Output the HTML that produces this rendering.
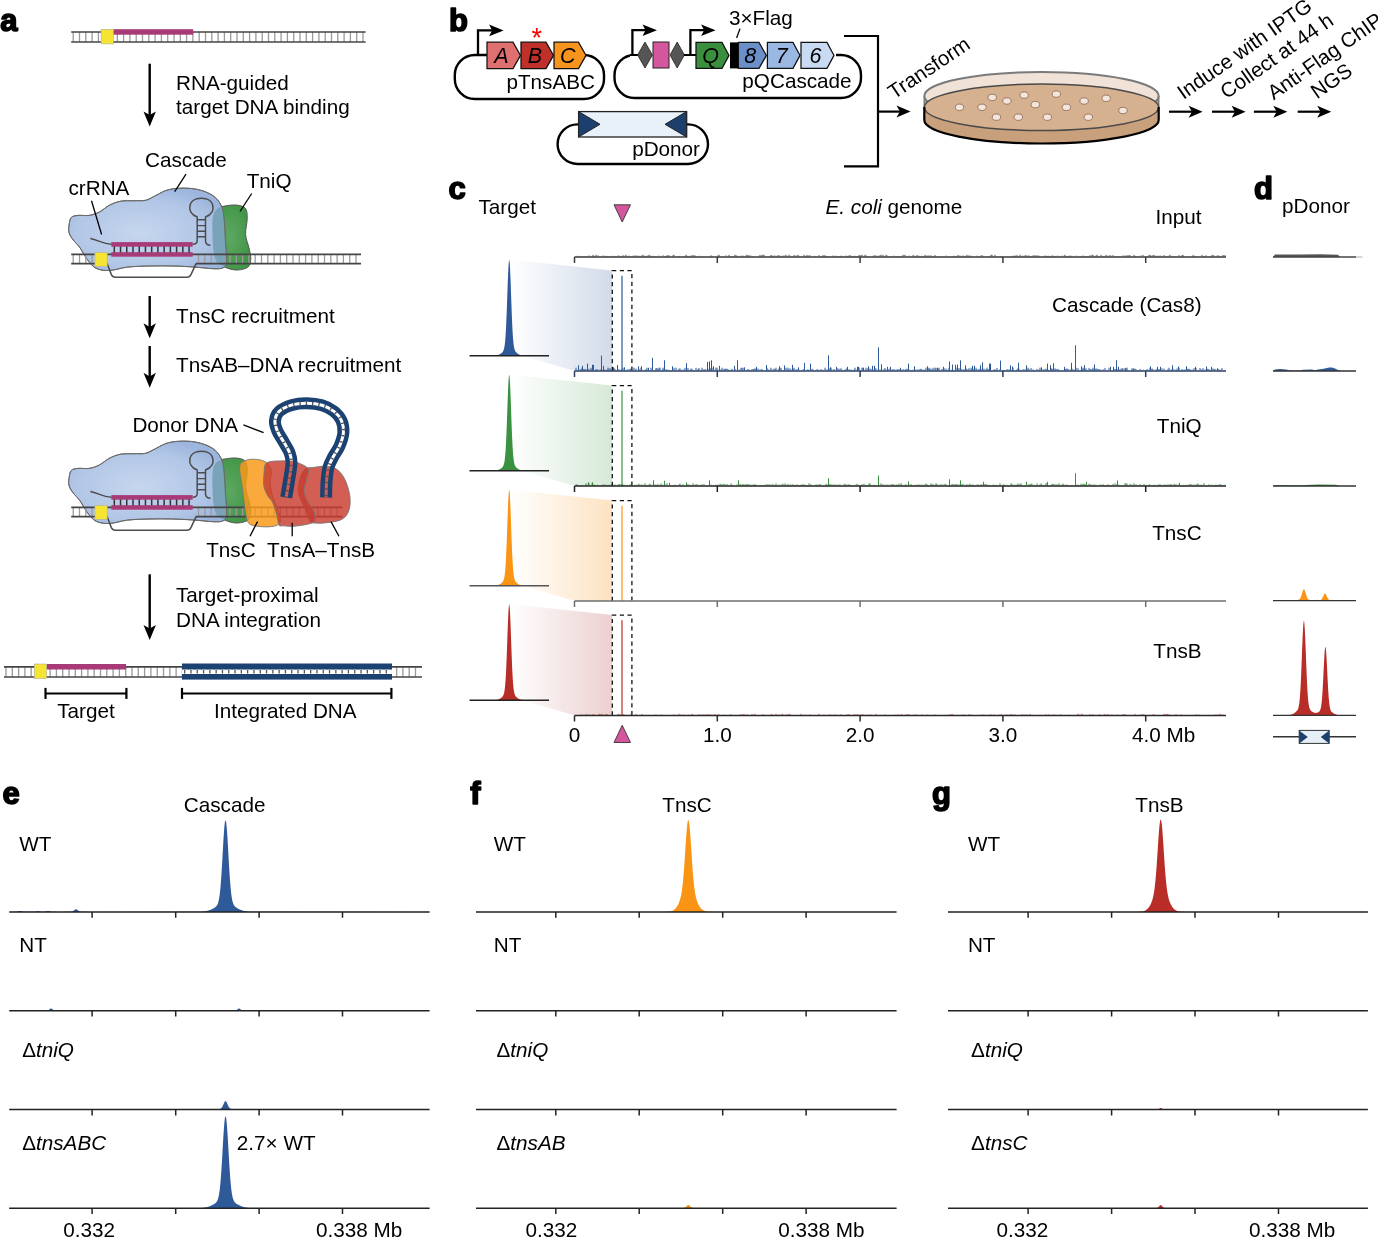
<!DOCTYPE html>
<html><head><meta charset="utf-8"><style>
html,body{margin:0;padding:0;background:#fff;}
svg{display:block;font-family:"Liberation Sans", sans-serif;will-change:transform;}
</style></head><body>
<svg width="1378" height="1237" viewBox="0 0 1378 1237">
<defs><radialGradient id="cg" cx="0.45" cy="0.55" r="0.6">
<stop offset="0" stop-color="#c6d6ee"/><stop offset="0.7" stop-color="#b1c6e6"/><stop offset="1" stop-color="#9cb5de"/></radialGradient><radialGradient id="gg" cx="0.45" cy="0.5" r="0.6">
<stop offset="0" stop-color="#5ea862"/><stop offset="1" stop-color="#3f9445"/></radialGradient><clipPath id="cc1"><path d="M69.00,225.50 C69.37,223.07 69.70,219.28 71.20,217.60 C72.70,215.92 75.00,215.77 78.00,215.40 C81.00,215.03 85.63,215.97 89.20,215.40 C92.77,214.83 96.02,213.70 99.40,212.00 C102.78,210.30 105.95,207.00 109.50,205.20 C113.05,203.40 116.58,201.95 120.70,201.20 C124.82,200.45 130.07,200.85 134.20,200.70 C138.33,200.55 142.12,201.05 145.50,200.30 C148.88,199.55 151.13,197.82 154.50,196.20 C157.87,194.58 161.95,191.90 165.70,190.60 C169.45,189.30 172.87,188.77 177.00,188.40 C181.13,188.03 186.00,187.92 190.50,188.40 C195.00,188.88 199.88,189.80 204.00,191.30 C208.12,192.80 212.20,194.70 215.20,197.40 C218.20,200.10 220.50,203.57 222.00,207.50 C223.50,211.43 223.63,215.38 224.20,221.00 C224.77,226.62 225.02,234.45 225.40,241.20 C225.78,247.95 226.88,257.07 226.50,261.50 C226.12,265.93 225.35,266.60 223.10,267.80 C220.85,269.00 217.68,268.82 213.00,268.70 C208.32,268.58 201.75,267.55 195.00,267.10 C188.25,266.65 180.00,266.18 172.50,266.00 C165.00,265.82 157.50,265.82 150.00,266.00 C142.50,266.18 134.25,266.35 127.50,267.10 C120.75,267.85 114.75,270.32 109.50,270.50 C104.25,270.68 99.75,270.08 96.00,268.20 C92.25,266.32 89.63,262.57 87.00,259.20 C84.37,255.83 82.63,251.37 80.20,248.00 C77.77,244.63 74.27,241.63 72.40,239.00 C70.53,236.37 69.57,234.45 69.00,232.20 C68.43,229.95 68.63,227.93 69.00,225.50 Z"/></clipPath><clipPath id="cc2"><path d="M69.00,478.50 C69.37,476.07 69.70,472.28 71.20,470.60 C72.70,468.92 75.00,468.77 78.00,468.40 C81.00,468.03 85.63,468.97 89.20,468.40 C92.77,467.83 96.02,466.70 99.40,465.00 C102.78,463.30 105.95,460.00 109.50,458.20 C113.05,456.40 116.58,454.95 120.70,454.20 C124.82,453.45 130.07,453.85 134.20,453.70 C138.33,453.55 142.12,454.05 145.50,453.30 C148.88,452.55 151.13,450.82 154.50,449.20 C157.87,447.58 161.95,444.90 165.70,443.60 C169.45,442.30 172.87,441.77 177.00,441.40 C181.13,441.03 186.00,440.92 190.50,441.40 C195.00,441.88 199.88,442.80 204.00,444.30 C208.12,445.80 212.20,447.70 215.20,450.40 C218.20,453.10 220.50,456.57 222.00,460.50 C223.50,464.43 223.63,468.38 224.20,474.00 C224.77,479.62 225.02,487.45 225.40,494.20 C225.78,500.95 226.88,510.07 226.50,514.50 C226.12,518.93 225.35,519.60 223.10,520.80 C220.85,522.00 217.68,521.82 213.00,521.70 C208.32,521.58 201.75,520.55 195.00,520.10 C188.25,519.65 180.00,519.18 172.50,519.00 C165.00,518.82 157.50,518.82 150.00,519.00 C142.50,519.18 134.25,519.35 127.50,520.10 C120.75,520.85 114.75,523.32 109.50,523.50 C104.25,523.68 99.75,523.08 96.00,521.20 C92.25,519.32 89.63,515.57 87.00,512.20 C84.37,508.83 82.63,504.37 80.20,501.00 C77.77,497.63 74.27,494.63 72.40,492.00 C70.53,489.37 69.57,487.45 69.00,485.20 C68.43,482.95 68.63,480.93 69.00,478.50 Z"/></clipPath><mask id="lm" maskUnits="userSpaceOnUse" x="0" y="0" width="1378" height="1237"><rect x="0" y="0" width="1378" height="1237" fill="#fff"/><path d="M286.20,497.50 C286.73,494.32 288.52,484.23 289.40,478.40 C290.28,472.57 291.48,466.82 291.50,462.50 C291.52,458.18 290.78,455.90 289.50,452.50 C288.22,449.10 285.83,445.70 283.80,442.10 C281.77,438.50 278.77,434.47 277.30,430.90 C275.83,427.33 274.68,423.95 275.00,420.70 C275.32,417.45 276.33,414.03 279.20,411.40 C282.07,408.77 287.55,406.25 292.20,404.90 C296.85,403.55 302.13,403.23 307.10,403.30 C312.07,403.37 317.52,403.95 322.00,405.30 C326.48,406.65 330.75,408.83 334.00,411.40 C337.25,413.97 339.93,417.13 341.50,420.70 C343.07,424.27 343.72,428.62 343.40,432.80 C343.08,436.98 341.32,441.77 339.60,445.80 C337.88,449.83 334.95,453.43 333.10,457.00 C331.25,460.57 329.58,463.18 328.50,467.20 C327.42,471.22 327.00,476.05 326.60,481.10 C326.20,486.15 326.18,494.77 326.10,497.50" fill="none" stroke="#000" stroke-width="3"/></mask><linearGradient id="gb0" gradientUnits="userSpaceOnUse" x1="510" y1="0" x2="612" y2="0"><stop offset="0" stop-color="#d2dbea" stop-opacity="0"/><stop offset="1" stop-color="#d2dbea" stop-opacity="1"/></linearGradient><linearGradient id="gb1" gradientUnits="userSpaceOnUse" x1="510" y1="0" x2="612" y2="0"><stop offset="0" stop-color="#d6e9d8" stop-opacity="0"/><stop offset="1" stop-color="#d6e9d8" stop-opacity="1"/></linearGradient><linearGradient id="gb2" gradientUnits="userSpaceOnUse" x1="510" y1="0" x2="612" y2="0"><stop offset="0" stop-color="#fde2c2" stop-opacity="0"/><stop offset="1" stop-color="#fde2c2" stop-opacity="1"/></linearGradient><linearGradient id="gb3" gradientUnits="userSpaceOnUse" x1="510" y1="0" x2="612" y2="0"><stop offset="0" stop-color="#ecd0d0" stop-opacity="0"/><stop offset="1" stop-color="#ecd0d0" stop-opacity="1"/></linearGradient></defs>
<rect width="1378" height="1237" fill="#fff"/>
<text x="0.2" y="31.2" font-size="31" font-weight="bold" fill="#000" stroke="#000" stroke-width="1.6" stroke-linejoin="round">a</text>
<path d="M73.20,32.00V42.00M79.50,32.00V42.00M85.80,32.00V42.00M92.10,32.00V42.00M98.40,32.00V42.00M104.70,32.00V42.00M111.00,32.00V42.00M117.30,32.00V42.00M123.60,32.00V42.00M129.90,32.00V42.00M136.20,32.00V42.00M142.50,32.00V42.00M148.80,32.00V42.00M155.10,32.00V42.00M161.40,32.00V42.00M167.70,32.00V42.00M174.00,32.00V42.00M180.30,32.00V42.00M186.60,32.00V42.00M192.90,32.00V42.00M199.20,32.00V42.00M205.50,32.00V42.00M211.80,32.00V42.00M218.10,32.00V42.00M224.40,32.00V42.00M230.70,32.00V42.00M237.00,32.00V42.00M243.30,32.00V42.00M249.60,32.00V42.00M255.90,32.00V42.00M262.20,32.00V42.00M268.50,32.00V42.00M274.80,32.00V42.00M281.10,32.00V42.00M287.40,32.00V42.00M293.70,32.00V42.00M300.00,32.00V42.00M306.30,32.00V42.00M312.60,32.00V42.00M318.90,32.00V42.00M325.20,32.00V42.00M331.50,32.00V42.00M337.80,32.00V42.00M344.10,32.00V42.00M350.40,32.00V42.00M356.70,32.00V42.00M363.00,32.00V42.00" stroke="#9a9a9a" stroke-width="1.3" fill="none"/>
<line x1="71.20" y1="32.00" x2="365.60" y2="32.00" stroke="#444" stroke-width="1.7" />
<line x1="71.20" y1="42.00" x2="365.60" y2="42.00" stroke="#444" stroke-width="1.7" />
<rect x="113.3" y="29.2" width="79.8" height="5.5" fill="#a83a78"/>
<rect x="101.1" y="29.3" width="12.2" height="14.6" fill="#f5e532" stroke="#b0b0a0" stroke-width="0.6"/>
<line x1="149.70" y1="63.70" x2="149.70" y2="116.60" stroke="#000" stroke-width="2.4" />
<path d="M143.50,111.50 L149.70,126.50 L155.90,111.50 L149.70,115.10 Z" fill="#000"/>
<text x="176.0" y="89.5" font-size="20.7" text-anchor="start" fill="#000" >RNA-guided</text>
<text x="176.0" y="114.0" font-size="20.7" text-anchor="start" fill="#000" >target DNA binding</text>
<line x1="149.70" y1="296.00" x2="149.70" y2="328.40" stroke="#000" stroke-width="2.4" />
<path d="M143.50,323.30 L149.70,338.30 L155.90,323.30 L149.70,326.90 Z" fill="#000"/>
<text x="176.0" y="323.0" font-size="20.7" text-anchor="start" fill="#000" >TnsC recruitment</text>
<line x1="149.70" y1="346.00" x2="149.70" y2="377.90" stroke="#000" stroke-width="2.4" />
<path d="M143.50,372.80 L149.70,387.80 L155.90,372.80 L149.70,376.40 Z" fill="#000"/>
<text x="176.0" y="372.0" font-size="20.7" text-anchor="start" fill="#000" >TnsAB–DNA recruitment</text>
<line x1="149.70" y1="574.30" x2="149.70" y2="630.10" stroke="#000" stroke-width="2.4" />
<path d="M143.50,625.00 L149.70,640.00 L155.90,625.00 L149.70,628.60 Z" fill="#000"/>
<text x="176.0" y="601.5" font-size="20.7" text-anchor="start" fill="#000" >Target-proximal</text>
<text x="176.0" y="627.0" font-size="20.7" text-anchor="start" fill="#000" >DNA integration</text>
<path d="M217.50,208.60 C219.75,206.80 223.13,206.27 226.50,205.70 C229.87,205.13 234.52,204.72 237.70,205.20 C240.88,205.68 244.02,206.35 245.60,208.60 C247.18,210.85 247.20,214.38 247.20,218.70 C247.20,223.02 245.30,229.62 245.60,234.50 C245.90,239.38 248.13,243.88 249.00,248.00 C249.87,252.12 250.98,256.02 250.80,259.20 C250.62,262.38 250.08,265.30 247.90,267.10 C245.72,268.90 241.08,269.82 237.70,270.00 C234.32,270.18 230.78,269.32 227.60,268.20 C224.42,267.08 220.85,265.55 218.60,263.30 C216.35,261.05 215.12,259.50 214.10,254.70 C213.08,249.90 212.68,240.87 212.50,234.50 C212.32,228.13 212.17,220.82 213.00,216.50 C213.83,212.18 215.25,210.40 217.50,208.60 Z" fill="url(#gg)" stroke="#555" stroke-width="1"/>
<path d="M69.00,225.50 C69.37,223.07 69.70,219.28 71.20,217.60 C72.70,215.92 75.00,215.77 78.00,215.40 C81.00,215.03 85.63,215.97 89.20,215.40 C92.77,214.83 96.02,213.70 99.40,212.00 C102.78,210.30 105.95,207.00 109.50,205.20 C113.05,203.40 116.58,201.95 120.70,201.20 C124.82,200.45 130.07,200.85 134.20,200.70 C138.33,200.55 142.12,201.05 145.50,200.30 C148.88,199.55 151.13,197.82 154.50,196.20 C157.87,194.58 161.95,191.90 165.70,190.60 C169.45,189.30 172.87,188.77 177.00,188.40 C181.13,188.03 186.00,187.92 190.50,188.40 C195.00,188.88 199.88,189.80 204.00,191.30 C208.12,192.80 212.20,194.70 215.20,197.40 C218.20,200.10 220.50,203.57 222.00,207.50 C223.50,211.43 223.63,215.38 224.20,221.00 C224.77,226.62 225.02,234.45 225.40,241.20 C225.78,247.95 226.88,257.07 226.50,261.50 C226.12,265.93 225.35,266.60 223.10,267.80 C220.85,269.00 217.68,268.82 213.00,268.70 C208.32,268.58 201.75,267.55 195.00,267.10 C188.25,266.65 180.00,266.18 172.50,266.00 C165.00,265.82 157.50,265.82 150.00,266.00 C142.50,266.18 134.25,266.35 127.50,267.10 C120.75,267.85 114.75,270.32 109.50,270.50 C104.25,270.68 99.75,270.08 96.00,268.20 C92.25,266.32 89.63,262.57 87.00,259.20 C84.37,255.83 82.63,251.37 80.20,248.00 C77.77,244.63 74.27,241.63 72.40,239.00 C70.53,236.37 69.57,234.45 69.00,232.20 C68.43,229.95 68.63,227.93 69.00,225.50 Z" fill="url(#cg)" stroke="#6a6a6a" stroke-width="1"/>
<path d="M217.50,208.60 C219.75,206.80 223.13,206.27 226.50,205.70 C229.87,205.13 234.52,204.72 237.70,205.20 C240.88,205.68 244.02,206.35 245.60,208.60 C247.18,210.85 247.20,214.38 247.20,218.70 C247.20,223.02 245.30,229.62 245.60,234.50 C245.90,239.38 248.13,243.88 249.00,248.00 C249.87,252.12 250.98,256.02 250.80,259.20 C250.62,262.38 250.08,265.30 247.90,267.10 C245.72,268.90 241.08,269.82 237.70,270.00 C234.32,270.18 230.78,269.32 227.60,268.20 C224.42,267.08 220.85,265.55 218.60,263.30 C216.35,261.05 215.12,259.50 214.10,254.70 C213.08,249.90 212.68,240.87 212.50,234.50 C212.32,228.13 212.17,220.82 213.00,216.50 C213.83,212.18 215.25,210.40 217.50,208.60 Z" fill="#79a3b9" clip-path="url(#cc1)"/>
<path d="M69.00,225.50 C69.37,223.07 69.70,219.28 71.20,217.60 C72.70,215.92 75.00,215.77 78.00,215.40 C81.00,215.03 85.63,215.97 89.20,215.40 C92.77,214.83 96.02,213.70 99.40,212.00 C102.78,210.30 105.95,207.00 109.50,205.20 C113.05,203.40 116.58,201.95 120.70,201.20 C124.82,200.45 130.07,200.85 134.20,200.70 C138.33,200.55 142.12,201.05 145.50,200.30 C148.88,199.55 151.13,197.82 154.50,196.20 C157.87,194.58 161.95,191.90 165.70,190.60 C169.45,189.30 172.87,188.77 177.00,188.40 C181.13,188.03 186.00,187.92 190.50,188.40 C195.00,188.88 199.88,189.80 204.00,191.30 C208.12,192.80 212.20,194.70 215.20,197.40 C218.20,200.10 220.50,203.57 222.00,207.50 C223.50,211.43 223.63,215.38 224.20,221.00 C224.77,226.62 225.02,234.45 225.40,241.20 C225.78,247.95 226.88,257.07 226.50,261.50 C226.12,265.93 225.35,266.60 223.10,267.80 C220.85,269.00 217.68,268.82 213.00,268.70 C208.32,268.58 201.75,267.55 195.00,267.10 C188.25,266.65 180.00,266.18 172.50,266.00 C165.00,265.82 157.50,265.82 150.00,266.00 C142.50,266.18 134.25,266.35 127.50,267.10 C120.75,267.85 114.75,270.32 109.50,270.50 C104.25,270.68 99.75,270.08 96.00,268.20 C92.25,266.32 89.63,262.57 87.00,259.20 C84.37,255.83 82.63,251.37 80.20,248.00 C77.77,244.63 74.27,241.63 72.40,239.00 C70.53,236.37 69.57,234.45 69.00,232.20 C68.43,229.95 68.63,227.93 69.00,225.50 Z" fill="none" stroke="#6a6a6a" stroke-width="1"/>
<path d="M73.20,254.30V263.70M79.50,254.30V263.70M85.80,254.30V263.70M92.10,254.30V263.70M198.50,254.30V263.70M204.80,254.30V263.70M211.10,254.30V263.70M217.40,254.30V263.70M223.70,254.30V263.70M230.00,254.30V263.70M236.30,254.30V263.70M242.60,254.30V263.70M248.90,254.30V263.70M255.20,254.30V263.70M261.50,254.30V263.70M267.80,254.30V263.70M274.10,254.30V263.70M280.40,254.30V263.70M286.70,254.30V263.70M293.00,254.30V263.70M299.30,254.30V263.70M305.60,254.30V263.70M311.90,254.30V263.70M318.20,254.30V263.70M324.50,254.30V263.70M330.80,254.30V263.70M337.10,254.30V263.70M343.40,254.30V263.70M349.70,254.30V263.70M356.00,254.30V263.70" stroke="#9c9c9c" stroke-width="1.3" fill="none"/>
<line x1="71.20" y1="254.30" x2="112.00" y2="254.30" stroke="#444" stroke-width="1.7" />
<line x1="71.20" y1="263.70" x2="107.50" y2="263.70" stroke="#444" stroke-width="1.7" />
<line x1="192.00" y1="254.30" x2="361.00" y2="254.30" stroke="#444" stroke-width="1.7" />
<line x1="195.80" y1="263.70" x2="361.00" y2="263.70" stroke="#444" stroke-width="1.7" />
<path d="M107.2,263.7 L111.3,274.5 Q112.5,277.2 115.5,277.2 L187,277.2 Q189.8,277.2 191,274.5 L196.1,263.7" fill="none" stroke="#4d4d4d" stroke-width="1.6"/>
<path d="M114.30,246.00V253.00M120.53,246.00V253.00M126.76,246.00V253.00M132.99,246.00V253.00M139.22,246.00V253.00M145.45,246.00V253.00M151.68,246.00V253.00M157.91,246.00V253.00M164.14,246.00V253.00M170.37,246.00V253.00M176.60,246.00V253.00M182.83,246.00V253.00M189.06,246.00V253.00" stroke="#333" stroke-width="1.5"/>
<rect x="111.3" y="242.1" width="81.4" height="4.6" fill="#a83a78"/>
<rect x="111.3" y="252.2" width="81.4" height="4.5" fill="#a83a78"/>
<path d="M90.4,238.5 C98,240 103,244 111.3,244.2" fill="none" stroke="#4d4d4d" stroke-width="1.4"/>
<path d="M192.7,244.2 C195.5,244.2 197.2,243 197.2,240.5 L197.2,217 C190.5,214.5 189.6,209.5 189.8,207.5 C190,201 195.5,198.3 201.4,198.3 C207.3,198.3 212.8,201 213,207.5 C213.2,209.5 212.3,214.5 205.5,217 L205.5,240.5 C205.5,243.6 207.5,245.2 210.5,245.3" fill="none" stroke="#4d4d4d" stroke-width="1.5"/>
<path d="M197.2,219.8H205.5M197.2,225.6H205.5M197.2,231.3H205.5M197.2,236.8H205.5" stroke="#4d4d4d" stroke-width="1.4"/>
<rect x="94.9" y="252.5" width="12.3" height="13.9" fill="#f5e532" stroke="#b0b0a0" stroke-width="0.6"/>
<line x1="91.50" y1="200.70" x2="101.60" y2="234.50" stroke="#000" stroke-width="1.3" />
<line x1="186.00" y1="174.20" x2="174.70" y2="191.70" stroke="#000" stroke-width="1.3" />
<line x1="251.70" y1="193.50" x2="240.00" y2="211.50" stroke="#000" stroke-width="1.3" />
<text x="68.5" y="194.7" font-size="20.7" text-anchor="start" fill="#000" >crRNA</text>
<text x="145.0" y="167.0" font-size="20.7" text-anchor="start" fill="#000" >Cascade</text>
<text x="246.7" y="188.0" font-size="20.7" text-anchor="start" fill="#000" >TniQ</text>
<path d="M217.50,461.60 C219.75,459.80 223.13,459.27 226.50,458.70 C229.87,458.13 234.52,457.72 237.70,458.20 C240.88,458.68 244.02,459.35 245.60,461.60 C247.18,463.85 247.20,467.38 247.20,471.70 C247.20,476.02 245.30,482.62 245.60,487.50 C245.90,492.38 248.13,496.88 249.00,501.00 C249.87,505.12 250.98,509.02 250.80,512.20 C250.62,515.38 250.08,518.30 247.90,520.10 C245.72,521.90 241.08,522.82 237.70,523.00 C234.32,523.18 230.78,522.32 227.60,521.20 C224.42,520.08 220.85,518.55 218.60,516.30 C216.35,514.05 215.12,512.50 214.10,507.70 C213.08,502.90 212.68,493.87 212.50,487.50 C212.32,481.13 212.17,473.82 213.00,469.50 C213.83,465.18 215.25,463.40 217.50,461.60 Z" fill="url(#gg)" stroke="#555" stroke-width="1"/>
<path d="M69.00,478.50 C69.37,476.07 69.70,472.28 71.20,470.60 C72.70,468.92 75.00,468.77 78.00,468.40 C81.00,468.03 85.63,468.97 89.20,468.40 C92.77,467.83 96.02,466.70 99.40,465.00 C102.78,463.30 105.95,460.00 109.50,458.20 C113.05,456.40 116.58,454.95 120.70,454.20 C124.82,453.45 130.07,453.85 134.20,453.70 C138.33,453.55 142.12,454.05 145.50,453.30 C148.88,452.55 151.13,450.82 154.50,449.20 C157.87,447.58 161.95,444.90 165.70,443.60 C169.45,442.30 172.87,441.77 177.00,441.40 C181.13,441.03 186.00,440.92 190.50,441.40 C195.00,441.88 199.88,442.80 204.00,444.30 C208.12,445.80 212.20,447.70 215.20,450.40 C218.20,453.10 220.50,456.57 222.00,460.50 C223.50,464.43 223.63,468.38 224.20,474.00 C224.77,479.62 225.02,487.45 225.40,494.20 C225.78,500.95 226.88,510.07 226.50,514.50 C226.12,518.93 225.35,519.60 223.10,520.80 C220.85,522.00 217.68,521.82 213.00,521.70 C208.32,521.58 201.75,520.55 195.00,520.10 C188.25,519.65 180.00,519.18 172.50,519.00 C165.00,518.82 157.50,518.82 150.00,519.00 C142.50,519.18 134.25,519.35 127.50,520.10 C120.75,520.85 114.75,523.32 109.50,523.50 C104.25,523.68 99.75,523.08 96.00,521.20 C92.25,519.32 89.63,515.57 87.00,512.20 C84.37,508.83 82.63,504.37 80.20,501.00 C77.77,497.63 74.27,494.63 72.40,492.00 C70.53,489.37 69.57,487.45 69.00,485.20 C68.43,482.95 68.63,480.93 69.00,478.50 Z" fill="url(#cg)" stroke="#6a6a6a" stroke-width="1"/>
<path d="M217.50,461.60 C219.75,459.80 223.13,459.27 226.50,458.70 C229.87,458.13 234.52,457.72 237.70,458.20 C240.88,458.68 244.02,459.35 245.60,461.60 C247.18,463.85 247.20,467.38 247.20,471.70 C247.20,476.02 245.30,482.62 245.60,487.50 C245.90,492.38 248.13,496.88 249.00,501.00 C249.87,505.12 250.98,509.02 250.80,512.20 C250.62,515.38 250.08,518.30 247.90,520.10 C245.72,521.90 241.08,522.82 237.70,523.00 C234.32,523.18 230.78,522.32 227.60,521.20 C224.42,520.08 220.85,518.55 218.60,516.30 C216.35,514.05 215.12,512.50 214.10,507.70 C213.08,502.90 212.68,493.87 212.50,487.50 C212.32,481.13 212.17,473.82 213.00,469.50 C213.83,465.18 215.25,463.40 217.50,461.60 Z" fill="#79a3b9" clip-path="url(#cc2)"/>
<path d="M69.00,478.50 C69.37,476.07 69.70,472.28 71.20,470.60 C72.70,468.92 75.00,468.77 78.00,468.40 C81.00,468.03 85.63,468.97 89.20,468.40 C92.77,467.83 96.02,466.70 99.40,465.00 C102.78,463.30 105.95,460.00 109.50,458.20 C113.05,456.40 116.58,454.95 120.70,454.20 C124.82,453.45 130.07,453.85 134.20,453.70 C138.33,453.55 142.12,454.05 145.50,453.30 C148.88,452.55 151.13,450.82 154.50,449.20 C157.87,447.58 161.95,444.90 165.70,443.60 C169.45,442.30 172.87,441.77 177.00,441.40 C181.13,441.03 186.00,440.92 190.50,441.40 C195.00,441.88 199.88,442.80 204.00,444.30 C208.12,445.80 212.20,447.70 215.20,450.40 C218.20,453.10 220.50,456.57 222.00,460.50 C223.50,464.43 223.63,468.38 224.20,474.00 C224.77,479.62 225.02,487.45 225.40,494.20 C225.78,500.95 226.88,510.07 226.50,514.50 C226.12,518.93 225.35,519.60 223.10,520.80 C220.85,522.00 217.68,521.82 213.00,521.70 C208.32,521.58 201.75,520.55 195.00,520.10 C188.25,519.65 180.00,519.18 172.50,519.00 C165.00,518.82 157.50,518.82 150.00,519.00 C142.50,519.18 134.25,519.35 127.50,520.10 C120.75,520.85 114.75,523.32 109.50,523.50 C104.25,523.68 99.75,523.08 96.00,521.20 C92.25,519.32 89.63,515.57 87.00,512.20 C84.37,508.83 82.63,504.37 80.20,501.00 C77.77,497.63 74.27,494.63 72.40,492.00 C70.53,489.37 69.57,487.45 69.00,485.20 C68.43,482.95 68.63,480.93 69.00,478.50 Z" fill="none" stroke="#6a6a6a" stroke-width="1"/>
<path d="M73.20,507.30V516.70M79.50,507.30V516.70M85.80,507.30V516.70M92.10,507.30V516.70M198.50,507.30V516.70M204.80,507.30V516.70M211.10,507.30V516.70M217.40,507.30V516.70M223.70,507.30V516.70M230.00,507.30V516.70M236.30,507.30V516.70M242.60,507.30V516.70M248.90,507.30V516.70M255.20,507.30V516.70M261.50,507.30V516.70M267.80,507.30V516.70M274.10,507.30V516.70M280.40,507.30V516.70M286.70,507.30V516.70M293.00,507.30V516.70M299.30,507.30V516.70M305.60,507.30V516.70M311.90,507.30V516.70M318.20,507.30V516.70M324.50,507.30V516.70M330.80,507.30V516.70M337.10,507.30V516.70" stroke="#9c9c9c" stroke-width="1.3" fill="none"/>
<line x1="71.20" y1="507.30" x2="112.00" y2="507.30" stroke="#444" stroke-width="1.7" />
<line x1="71.20" y1="516.70" x2="107.50" y2="516.70" stroke="#444" stroke-width="1.7" />
<line x1="192.00" y1="507.30" x2="342.30" y2="507.30" stroke="#444" stroke-width="1.7" />
<line x1="195.80" y1="516.70" x2="342.30" y2="516.70" stroke="#444" stroke-width="1.7" />
<path d="M107.2,516.7 L111.3,527.5 Q112.5,530.2 115.5,530.2 L187,530.2 Q189.8,530.2 191,527.5 L196.1,516.7" fill="none" stroke="#4d4d4d" stroke-width="1.6"/>
<path d="M114.30,499.00V506.00M120.53,499.00V506.00M126.76,499.00V506.00M132.99,499.00V506.00M139.22,499.00V506.00M145.45,499.00V506.00M151.68,499.00V506.00M157.91,499.00V506.00M164.14,499.00V506.00M170.37,499.00V506.00M176.60,499.00V506.00M182.83,499.00V506.00M189.06,499.00V506.00" stroke="#333" stroke-width="1.5"/>
<rect x="111.3" y="495.1" width="81.4" height="4.6" fill="#a83a78"/>
<rect x="111.3" y="505.2" width="81.4" height="4.5" fill="#a83a78"/>
<path d="M90.4,491.5 C98,493 103,497 111.3,497.2" fill="none" stroke="#4d4d4d" stroke-width="1.4"/>
<path d="M192.7,497.2 C195.5,497.2 197.2,496 197.2,493.5 L197.2,470 C190.5,467.5 189.6,462.5 189.8,460.5 C190,454 195.5,451.3 201.4,451.3 C207.3,451.3 212.8,454 213,460.5 C213.2,462.5 212.3,467.5 205.5,470 L205.5,493.5 C205.5,496.6 207.5,498.2 210.5,498.3" fill="none" stroke="#4d4d4d" stroke-width="1.5"/>
<path d="M197.2,472.8H205.5M197.2,478.6H205.5M197.2,484.3H205.5M197.2,489.8H205.5" stroke="#4d4d4d" stroke-width="1.4"/>
<rect x="94.9" y="505.5" width="12.3" height="13.9" fill="#f5e532" stroke="#b0b0a0" stroke-width="0.6"/>
<path d="M239.60,468.50 C239.70,465.87 239.65,464.03 241.50,462.50 C243.35,460.97 247.35,459.67 250.70,459.30 C254.05,458.93 258.70,459.48 261.60,460.30 C264.50,461.12 266.47,462.28 268.10,464.20 C269.73,466.12 271.03,468.72 271.40,471.80 C271.77,474.88 270.12,478.72 270.30,482.70 C270.48,486.68 271.42,491.72 272.50,495.70 C273.58,499.68 275.53,502.97 276.80,506.60 C278.07,510.23 279.73,514.60 280.10,517.50 C280.47,520.40 280.63,522.47 279.00,524.00 C277.37,525.53 273.93,526.33 270.30,526.70 C266.67,527.07 260.83,526.83 257.20,526.20 C253.57,525.57 250.48,525.43 248.50,522.90 C246.52,520.37 246.20,515.90 245.30,511.00 C244.40,506.10 243.83,498.95 243.10,493.50 C242.37,488.05 241.48,482.47 240.90,478.30 C240.32,474.13 239.50,471.13 239.60,468.50 Z" fill="#f99a18" fill-opacity="0.84" stroke="#777" stroke-width="0.9"/>
<path d="M305.00,469.00 C307.35,466.90 310.52,467.85 313.80,467.40 C317.08,466.95 321.07,466.12 324.70,466.30 C328.33,466.48 332.33,466.50 335.60,468.50 C338.87,470.50 341.93,473.77 344.30,478.30 C346.67,482.83 349.07,490.25 349.80,495.70 C350.53,501.15 350.15,507.00 348.70,511.00 C347.25,515.00 345.10,517.72 341.10,519.70 C337.10,521.68 329.25,522.37 324.70,522.90 C320.15,523.43 316.33,523.25 313.80,522.90 C311.27,522.55 310.77,522.78 309.50,520.80 C308.23,518.82 308.02,515.55 306.20,511.00 C304.38,506.45 299.68,498.67 298.60,493.50 C297.52,488.33 298.63,484.08 299.70,480.00 C300.77,475.92 302.65,471.10 305.00,469.00 Z" fill="#c83a2e" fill-opacity="0.82" stroke="#777" stroke-width="0.9"/>
<path d="M265.40,464.20 C266.57,462.12 268.40,462.05 271.00,461.50 C273.60,460.95 277.50,460.95 281.00,460.90 C284.50,460.85 288.50,460.60 292.00,461.20 C295.50,461.80 299.27,463.10 302.00,464.50 C304.73,465.90 307.65,467.02 308.40,469.60 C309.15,472.18 307.23,476.37 306.50,480.00 C305.77,483.63 303.75,487.73 304.00,491.40 C304.25,495.07 306.37,498.73 308.00,502.00 C309.63,505.27 312.65,507.87 313.80,511.00 C314.95,514.13 315.80,518.63 314.90,520.80 C314.00,522.97 311.83,523.10 308.40,524.00 C304.97,524.90 298.53,525.90 294.30,526.20 C290.07,526.50 285.55,525.98 283.00,525.80 C280.45,525.62 280.03,526.85 279.00,525.10 C277.97,523.35 277.88,519.12 276.80,515.30 C275.72,511.48 274.03,505.47 272.50,502.20 C270.97,498.93 269.05,498.42 267.60,495.70 C266.15,492.98 264.40,489.52 263.80,485.90 C263.20,482.28 263.73,477.62 264.00,474.00 C264.27,470.38 264.23,466.28 265.40,464.20 Z" fill="#c83a2e" fill-opacity="0.82" stroke="#777" stroke-width="0.9"/>
<path d="M286.20,497.50 C286.73,494.32 288.52,484.23 289.40,478.40 C290.28,472.57 291.48,466.82 291.50,462.50 C291.52,458.18 290.78,455.90 289.50,452.50 C288.22,449.10 285.83,445.70 283.80,442.10 C281.77,438.50 278.77,434.47 277.30,430.90 C275.83,427.33 274.68,423.95 275.00,420.70 C275.32,417.45 276.33,414.03 279.20,411.40 C282.07,408.77 287.55,406.25 292.20,404.90 C296.85,403.55 302.13,403.23 307.10,403.30 C312.07,403.37 317.52,403.95 322.00,405.30 C326.48,406.65 330.75,408.83 334.00,411.40 C337.25,413.97 339.93,417.13 341.50,420.70 C343.07,424.27 343.72,428.62 343.40,432.80 C343.08,436.98 341.32,441.77 339.60,445.80 C337.88,449.83 334.95,453.43 333.10,457.00 C331.25,460.57 329.58,463.18 328.50,467.20 C327.42,471.22 327.00,476.05 326.60,481.10 C326.20,486.15 326.18,494.77 326.10,497.50" fill="none" stroke="#1c4272" stroke-width="12" mask="url(#lm)"/>
<path d="M286.20,497.50 C286.73,494.32 288.52,484.23 289.40,478.40 C290.28,472.57 291.48,466.82 291.50,462.50 C291.52,458.18 290.78,455.90 289.50,452.50 C288.22,449.10 285.83,445.70 283.80,442.10 C281.77,438.50 278.77,434.47 277.30,430.90 C275.83,427.33 274.68,423.95 275.00,420.70 C275.32,417.45 276.33,414.03 279.20,411.40 C282.07,408.77 287.55,406.25 292.20,404.90 C296.85,403.55 302.13,403.23 307.10,403.30 C312.07,403.37 317.52,403.95 322.00,405.30 C326.48,406.65 330.75,408.83 334.00,411.40 C337.25,413.97 339.93,417.13 341.50,420.70 C343.07,424.27 343.72,428.62 343.40,432.80 C343.08,436.98 341.32,441.77 339.60,445.80 C337.88,449.83 334.95,453.43 333.10,457.00 C331.25,460.57 329.58,463.18 328.50,467.20 C327.42,471.22 327.00,476.05 326.60,481.10 C326.20,486.15 326.18,494.77 326.10,497.50" fill="none" stroke="#555" stroke-width="3.2" stroke-dasharray="1.3 5"/>
<line x1="243.40" y1="424.90" x2="263.60" y2="432.70" stroke="#000" stroke-width="1.3" />
<text x="132.4" y="432.1" font-size="20.7" text-anchor="start" fill="#000" >Donor DNA</text>
<line x1="250.00" y1="536.20" x2="257.50" y2="521.60" stroke="#000" stroke-width="1.3" />
<line x1="292.20" y1="522.70" x2="292.20" y2="536.20" stroke="#000" stroke-width="1.3" />
<line x1="339.00" y1="536.20" x2="331.00" y2="521.60" stroke="#000" stroke-width="1.3" />
<text x="206.2" y="556.5" font-size="20.7" text-anchor="start" fill="#000" >TnsC</text>
<text x="267.0" y="556.5" font-size="20.7" text-anchor="start" fill="#000" >TnsA–TnsB</text>
<path d="M6.00,666.80V677.00M12.30,666.80V677.00M18.60,666.80V677.00M24.90,666.80V677.00M31.20,666.80V677.00M37.50,666.80V677.00M43.80,666.80V677.00M50.10,666.80V677.00M56.40,666.80V677.00M62.70,666.80V677.00M69.00,666.80V677.00M75.30,666.80V677.00M81.60,666.80V677.00M87.90,666.80V677.00M94.20,666.80V677.00M100.50,666.80V677.00M106.80,666.80V677.00M113.10,666.80V677.00M119.40,666.80V677.00M125.70,666.80V677.00M132.00,666.80V677.00M138.30,666.80V677.00M144.60,666.80V677.00M150.90,666.80V677.00M157.20,666.80V677.00M163.50,666.80V677.00M169.80,666.80V677.00M176.10,666.80V677.00M182.40,666.80V677.00M188.70,666.80V677.00M195.00,666.80V677.00M201.30,666.80V677.00M207.60,666.80V677.00M213.90,666.80V677.00M220.20,666.80V677.00M226.50,666.80V677.00M232.80,666.80V677.00M239.10,666.80V677.00M245.40,666.80V677.00M251.70,666.80V677.00M258.00,666.80V677.00M264.30,666.80V677.00M270.60,666.80V677.00M276.90,666.80V677.00M283.20,666.80V677.00M289.50,666.80V677.00M295.80,666.80V677.00M302.10,666.80V677.00M308.40,666.80V677.00M314.70,666.80V677.00M321.00,666.80V677.00M327.30,666.80V677.00M333.60,666.80V677.00M339.90,666.80V677.00M346.20,666.80V677.00M352.50,666.80V677.00M358.80,666.80V677.00M365.10,666.80V677.00M371.40,666.80V677.00M377.70,666.80V677.00M384.00,666.80V677.00M390.30,666.80V677.00M396.60,666.80V677.00M402.90,666.80V677.00M409.20,666.80V677.00M415.50,666.80V677.00" stroke="#9a9a9a" stroke-width="1.3" fill="none"/>
<line x1="4.00" y1="666.80" x2="422.00" y2="666.80" stroke="#444" stroke-width="1.7" />
<line x1="4.00" y1="677.00" x2="422.00" y2="677.00" stroke="#444" stroke-width="1.7" />
<rect x="46.6" y="664" width="79.5" height="5.5" fill="#a83a78"/>
<rect x="34.3" y="664" width="12.3" height="14.6" fill="#f5e532" stroke="#b0b0a0" stroke-width="0.6"/>
<rect x="182" y="669.5" width="210" height="4.5" fill="#fff"/>
<rect x="182" y="663.5" width="210" height="6" fill="#1c4272"/>
<rect x="182" y="674" width="210" height="5.6" fill="#1c4272"/>
<path d="M184,671.8H392" stroke="#555" stroke-width="3.5" stroke-dasharray="1.3 5"/>
<line x1="45.50" y1="693.50" x2="126.40" y2="693.50" stroke="#000" stroke-width="2.2" />
<line x1="45.50" y1="687.90" x2="45.50" y2="698.90" stroke="#000" stroke-width="2.2" />
<line x1="126.40" y1="687.90" x2="126.40" y2="698.90" stroke="#000" stroke-width="2.2" />
<line x1="182.00" y1="693.50" x2="391.40" y2="693.50" stroke="#000" stroke-width="2.2" />
<line x1="182.00" y1="687.90" x2="182.00" y2="698.90" stroke="#000" stroke-width="2.2" />
<line x1="391.40" y1="687.90" x2="391.40" y2="698.90" stroke="#000" stroke-width="2.2" />
<text x="57.2" y="718.2" font-size="20.7" text-anchor="start" fill="#000" >Target</text>
<text x="214.0" y="718.2" font-size="20.7" text-anchor="start" fill="#000" >Integrated DNA</text>
<text x="449.0" y="31.0" font-size="31" font-weight="bold" fill="#000" stroke="#000" stroke-width="1.6" stroke-linejoin="round">b</text>
<rect x="454.8" y="55" width="149.2" height="44" rx="20" ry="20" fill="none" stroke="#000" stroke-width="2.4"/>
<rect x="487.5" y="50" width="98" height="10" fill="#fff"/>
<path d="M478,55 V30.4 H493.6" fill="none" stroke="#000" stroke-width="2.3"/>
<path d="M489.1,24.599999999999998 L503.6,30.4 L489.1,36.199999999999996 L492.1,30.4 Z" fill="#000"/>
<path d="M487,42.2 L513,42.2 L520.5,55.4 L513,68.6 L487,68.6 Z" fill="#e07070" stroke="#111" stroke-width="1.25" stroke-linejoin="miter"/>
<text x="501.5" y="63.0" font-size="21.5" text-anchor="middle" fill="#000" font-style="italic" >A</text>
<path d="M521,42.2 L546,42.2 L553.5,55.4 L546,68.6 L521,68.6 Z" fill="#c0302a" stroke="#111" stroke-width="1.25" stroke-linejoin="miter"/>
<text x="535.0" y="63.0" font-size="21.5" text-anchor="middle" fill="#000" font-style="italic" >B</text>
<path d="M554,42.2 L578.5,42.2 L586,55.4 L578.5,68.6 L554,68.6 Z" fill="#f7941d" stroke="#111" stroke-width="1.25" stroke-linejoin="miter"/>
<text x="567.8" y="63.0" font-size="21.5" text-anchor="middle" fill="#000" font-style="italic" >C</text>
<text x="536.8" y="46.6" font-size="27" fill="#ff0000" text-anchor="middle">*</text>
<text x="595.0" y="89.0" font-size="20.7" text-anchor="end" fill="#000" >pTnsABC</text>
<rect x="614.5" y="55" width="246.5" height="43" rx="20" ry="20" fill="none" stroke="#000" stroke-width="2.4"/>
<rect x="630" y="50" width="206" height="10" fill="#fff"/>
<line x1="630.00" y1="55.00" x2="640.00" y2="55.00" stroke="#000" stroke-width="2" />
<path d="M632.4,55 V30.2 H647" fill="none" stroke="#000" stroke-width="2.3"/>
<path d="M642.5,24.4 L657,30.2 L642.5,36.0 L645.5,30.2 Z" fill="#000"/>
<path d="M637.6,55 L645,42 L652.4,55 L645,68 Z" fill="#555" stroke="#222" stroke-width="0.8"/>
<rect x="653" y="42" width="16" height="26" fill="#d4569c" stroke="#222" stroke-width="1"/>
<path d="M670,55 L677.2,42 L684.4,55 L677.2,68 Z" fill="#555" stroke="#222" stroke-width="0.8"/>
<line x1="684.00" y1="55.00" x2="696.00" y2="55.00" stroke="#000" stroke-width="2" />
<path d="M690.4,55 V30.2 H705.6" fill="none" stroke="#000" stroke-width="2.3"/>
<path d="M701.1,24.4 L715.6,30.2 L701.1,36.0 L704.1,30.2 Z" fill="#000"/>
<path d="M696,42.4 L722,42.4 L729,55.4 L722,68.4 L696,68.4 Z" fill="#3a8f3e" stroke="#111" stroke-width="1.25" stroke-linejoin="miter"/>
<text x="710.5" y="63.0" font-size="21.5" text-anchor="middle" fill="#000" font-style="italic" >Q</text>
<rect x="730" y="42.4" width="8.4" height="26" fill="#000"/>
<path d="M738.4,42.4 L759,42.4 L766.4,55.4 L759,68.4 L738.4,68.4 Z" fill="#6b8fc9" stroke="#111" stroke-width="1.25" stroke-linejoin="miter"/>
<text x="750.2" y="63.0" font-size="21.5" text-anchor="middle" fill="#000" font-style="italic" >8</text>
<path d="M767.4,42.4 L793,42.4 L800,55.4 L793,68.4 L767.4,68.4 Z" fill="#9ab8e2" stroke="#111" stroke-width="1.25" stroke-linejoin="miter"/>
<text x="781.7" y="63.0" font-size="21.5" text-anchor="middle" fill="#000" font-style="italic" >7</text>
<path d="M801,42.4 L827,42.4 L834,55.4 L827,68.4 L801,68.4 Z" fill="#c9dbf2" stroke="#111" stroke-width="1.25" stroke-linejoin="miter"/>
<text x="815.5" y="63.0" font-size="21.5" text-anchor="middle" fill="#000" font-style="italic" >6</text>
<text x="851.6" y="88.4" font-size="20.7" text-anchor="end" fill="#000" >pQCascade</text>
<text x="729.0" y="25.0" font-size="20.7" text-anchor="start" fill="#000" >3×Flag</text>
<line x1="736.60" y1="38.00" x2="740.00" y2="28.60" stroke="#000" stroke-width="1.3" />
<rect x="557.6" y="124.4" width="150.39999999999998" height="39.599999999999994" rx="20" ry="20" fill="none" stroke="#000" stroke-width="2.4"/>
<rect x="578.6" y="111.6" width="108" height="25.4" fill="#e8f0f9" stroke="#222" stroke-width="1.3"/>
<path d="M578.6,111.6 L600,124.3 L578.6,137 Z" fill="#1c3f6e" stroke="#222" stroke-width="1"/>
<path d="M686.6,111.6 L665,124.3 L686.6,137 Z" fill="#1c3f6e" stroke="#222" stroke-width="1"/>
<text x="700.0" y="156.0" font-size="20.7" text-anchor="end" fill="#000" >pDonor</text>
<path d="M844,36 H878 V166.4 H844" fill="none" stroke="#000" stroke-width="2.2"/>
<line x1="878.00" y1="111.60" x2="901.40" y2="111.60" stroke="#000" stroke-width="2.2" />
<path d="M896.50,105.60 L910.50,111.60 L896.50,117.60 L899.90,111.60 Z" fill="#000"/>
<text font-size="20.7" fill="#000" transform="translate(894,99.8) rotate(-34)">Transform</text>
<path d="M924.3,96 L924.3,120 A117.2,23.5 0 0 0 1158.7,120 L1158.7,96 Z" fill="#c9a07c"/>
<ellipse cx="1041.5" cy="96" rx="117.2" ry="24" fill="#f0e2d6" stroke="#7a7a7a" stroke-width="2"/>
<path d="M924.3,96 V107" stroke="#7a7a7a" stroke-width="1.5"/><path d="M1158.7,96 V107" stroke="#7a7a7a" stroke-width="1.5"/>
<ellipse cx="1041.5" cy="107.3" rx="117.2" ry="23.2" fill="#d5b190" stroke="#4a4a4a" stroke-width="1.5"/>
<path d="M924.3,107 V120 A117.2,23.5 0 0 0 1158.7,120 V107" fill="none" stroke="#000" stroke-width="2.2"/>
<ellipse cx="959.5" cy="107.3" rx="4.2" ry="3.2" fill="#f3e5dc" stroke="#8c6a55" stroke-width="0.85"/>
<ellipse cx="982" cy="107.3" rx="4.2" ry="3.2" fill="#f3e5dc" stroke="#8c6a55" stroke-width="0.85"/>
<ellipse cx="992.2" cy="97.4" rx="4.2" ry="3.2" fill="#f3e5dc" stroke="#8c6a55" stroke-width="0.85"/>
<ellipse cx="1006.9" cy="101" rx="4.2" ry="3.2" fill="#f3e5dc" stroke="#8c6a55" stroke-width="0.85"/>
<ellipse cx="1024.1" cy="95.1" rx="4.2" ry="3.2" fill="#f3e5dc" stroke="#8c6a55" stroke-width="0.85"/>
<ellipse cx="1035.3" cy="104.6" rx="4.2" ry="3.2" fill="#f3e5dc" stroke="#8c6a55" stroke-width="0.85"/>
<ellipse cx="1056.3" cy="94.1" rx="4.2" ry="3.2" fill="#f3e5dc" stroke="#8c6a55" stroke-width="0.85"/>
<ellipse cx="1066.4" cy="107.3" rx="4.2" ry="3.2" fill="#f3e5dc" stroke="#8c6a55" stroke-width="0.85"/>
<ellipse cx="1084.1" cy="101" rx="4.2" ry="3.2" fill="#f3e5dc" stroke="#8c6a55" stroke-width="0.85"/>
<ellipse cx="1106.2" cy="98.3" rx="4.2" ry="3.2" fill="#f3e5dc" stroke="#8c6a55" stroke-width="0.85"/>
<ellipse cx="1123" cy="110.5" rx="4.2" ry="3.2" fill="#f3e5dc" stroke="#8c6a55" stroke-width="0.85"/>
<ellipse cx="996.4" cy="117.2" rx="4.2" ry="3.2" fill="#f3e5dc" stroke="#8c6a55" stroke-width="0.85"/>
<ellipse cx="1018.3" cy="117.2" rx="4.2" ry="3.2" fill="#f3e5dc" stroke="#8c6a55" stroke-width="0.85"/>
<ellipse cx="1047.3" cy="117.2" rx="4.2" ry="3.2" fill="#f3e5dc" stroke="#8c6a55" stroke-width="0.85"/>
<ellipse cx="1088.3" cy="117.2" rx="4.2" ry="3.2" fill="#f3e5dc" stroke="#8c6a55" stroke-width="0.85"/>
<line x1="1169.00" y1="111.70" x2="1193.50" y2="111.70" stroke="#000" stroke-width="2.2" />
<path d="M1188.60,105.70 L1202.60,111.70 L1188.60,117.70 L1192.00,111.70 Z" fill="#000"/>
<line x1="1212.00" y1="111.70" x2="1236.50" y2="111.70" stroke="#000" stroke-width="2.2" />
<path d="M1231.60,105.70 L1245.60,111.70 L1231.60,117.70 L1235.00,111.70 Z" fill="#000"/>
<line x1="1253.90" y1="111.70" x2="1278.20" y2="111.70" stroke="#000" stroke-width="2.2" />
<path d="M1273.30,105.70 L1287.30,111.70 L1273.30,117.70 L1276.70,111.70 Z" fill="#000"/>
<line x1="1297.70" y1="111.70" x2="1322.10" y2="111.70" stroke="#000" stroke-width="2.2" />
<path d="M1317.20,105.70 L1331.20,111.70 L1317.20,117.70 L1320.60,111.70 Z" fill="#000"/>
<text font-size="20.7" fill="#000" transform="translate(1183.5,100) rotate(-35)">Induce with IPTG</text>
<text font-size="20.7" fill="#000" transform="translate(1226.5,99.5) rotate(-35)">Collect at 44 h</text>
<text font-size="20.7" fill="#000" transform="translate(1273.8,100.5) rotate(-35)">Anti-Flag ChIP</text>
<text font-size="20.7" fill="#000" transform="translate(1317,99.5) rotate(-35)">NGS</text>
<text x="448.5" y="199.0" font-size="31" font-weight="bold" fill="#000" stroke="#000" stroke-width="1.6" stroke-linejoin="round">c</text>
<text x="478.5" y="213.7" font-size="20.7" text-anchor="start" fill="#000" >Target</text>
<text x="825.5" y="213.6" font-size="20.7" fill="#000"><tspan font-style="italic">E. coli</tspan> genome</text>
<path d="M614,204.8 L630.5,204.8 L622.2,222 Z" fill="#d4569c" stroke="#333" stroke-width="0.9"/>
<path d="M614,742.5 L630.5,742.5 L622.2,725.3 Z" fill="#d4569c" stroke="#333" stroke-width="0.9"/>
<path d="M578.0,256.4v-0.6M580.0,256.4v-0.4M583.0,256.4v-0.4M585.0,256.4v-0.3M588.0,256.4v-0.3M589.0,256.4v-1.0M592.0,256.4v-0.5M593.0,256.4v-1.6M594.0,256.4v-0.5M596.0,256.4v-1.6M598.0,256.4v-1.1M603.0,256.4v-0.9M605.0,256.4v-0.5M606.0,256.4v-0.6M608.0,256.4v-0.4M612.0,256.4v-0.6M613.0,256.4v-0.3M615.0,256.4v-0.5M616.0,256.4v-0.3M618.0,256.4v-0.9M619.0,256.4v-0.7M621.0,256.4v-0.5M622.0,256.4v-0.4M623.0,256.4v-1.1M624.0,256.4v-0.7M626.0,256.4v-1.6M629.0,256.4v-0.8M631.0,256.4v-0.4M633.0,256.4v-0.6M634.0,256.4v-0.8M635.0,256.4v-0.5M636.0,256.4v-1.1M638.0,256.4v-0.7M639.0,256.4v-0.5M640.0,256.4v-0.5M641.0,256.4v-0.3M642.0,256.4v-1.0M643.0,256.4v-1.6M644.0,256.4v-0.4M645.0,256.4v-0.6M647.0,256.4v-0.7M648.0,256.4v-0.6M649.0,256.4v-1.6M650.0,256.4v-0.9M653.0,256.4v-0.6M655.0,256.4v-0.3M659.0,256.4v-0.8M663.0,256.4v-1.1M665.0,256.4v-0.3M666.0,256.4v-0.4M667.0,256.4v-1.2M668.0,256.4v-0.9M669.0,256.4v-1.1M673.0,256.4v-1.2M674.0,256.4v-1.6M679.0,256.4v-0.4M680.0,256.4v-0.5M685.0,256.4v-0.5M686.0,256.4v-1.6M687.0,256.4v-0.6M688.0,256.4v-0.4M689.0,256.4v-0.5M690.0,256.4v-0.6M692.0,256.4v-1.3M693.0,256.4v-0.8M694.0,256.4v-1.1M695.0,256.4v-0.9M699.0,256.4v-0.6M711.0,256.4v-1.1M712.0,256.4v-0.5M718.0,256.4v-1.0M719.0,256.4v-1.6M720.0,256.4v-0.3M721.0,256.4v-0.4M726.0,256.4v-1.0M729.0,256.4v-1.6M730.0,256.4v-0.4M732.0,256.4v-0.4M734.0,256.4v-0.4M735.0,256.4v-1.6M736.0,256.4v-1.1M737.0,256.4v-0.7M741.0,256.4v-0.8M742.0,256.4v-0.4M743.0,256.4v-0.8M746.0,256.4v-0.9M747.0,256.4v-1.6M748.0,256.4v-1.1M749.0,256.4v-0.9M750.0,256.4v-0.9M751.0,256.4v-0.7M753.0,256.4v-0.4M759.0,256.4v-0.6M760.0,256.4v-1.6M761.0,256.4v-0.3M762.0,256.4v-1.5M763.0,256.4v-1.6M764.0,256.4v-1.6M770.0,256.4v-0.5M771.0,256.4v-1.3M772.0,256.4v-1.0M773.0,256.4v-0.4M774.0,256.4v-0.6M775.0,256.4v-0.9M777.0,256.4v-0.6M778.0,256.4v-1.3M779.0,256.4v-0.8M780.0,256.4v-0.8M781.0,256.4v-0.4M783.0,256.4v-0.9M785.0,256.4v-0.9M786.0,256.4v-1.6M789.0,256.4v-1.6M790.0,256.4v-0.7M794.0,256.4v-1.3M795.0,256.4v-0.9M797.0,256.4v-1.0M798.0,256.4v-1.6M799.0,256.4v-0.6M801.0,256.4v-0.4M804.0,256.4v-1.6M805.0,256.4v-0.6M806.0,256.4v-0.4M807.0,256.4v-1.5M808.0,256.4v-0.3M809.0,256.4v-1.1M810.0,256.4v-1.0M815.0,256.4v-0.5M819.0,256.4v-1.3M821.0,256.4v-0.3M822.0,256.4v-0.5M823.0,256.4v-1.3M824.0,256.4v-0.3M825.0,256.4v-1.4M826.0,256.4v-0.4M827.0,256.4v-0.4M828.0,256.4v-0.4M830.0,256.4v-0.3M833.0,256.4v-0.9M835.0,256.4v-0.4M836.0,256.4v-0.7M837.0,256.4v-0.4M839.0,256.4v-0.4M840.0,256.4v-0.4M841.0,256.4v-0.8M843.0,256.4v-0.5M846.0,256.4v-0.8M847.0,256.4v-0.4M848.0,256.4v-0.5M849.0,256.4v-0.8M850.0,256.4v-1.3M851.0,256.4v-0.3M852.0,256.4v-0.5M853.0,256.4v-0.4M854.0,256.4v-0.4M855.0,256.4v-0.6M856.0,256.4v-0.3M857.0,256.4v-0.4M858.0,256.4v-0.4M859.0,256.4v-1.6M860.0,256.4v-0.7M861.0,256.4v-1.2M862.0,256.4v-1.6M864.0,256.4v-0.5M865.0,256.4v-1.6M866.0,256.4v-1.0M869.0,256.4v-0.3M873.0,256.4v-0.6M874.0,256.4v-0.8M875.0,256.4v-1.3M877.0,256.4v-0.7M878.0,256.4v-0.6M880.0,256.4v-1.2M881.0,256.4v-1.6M883.0,256.4v-1.6M885.0,256.4v-0.4M886.0,256.4v-1.6M887.0,256.4v-1.0M889.0,256.4v-0.3M890.0,256.4v-0.4M894.0,256.4v-0.7M896.0,256.4v-0.4M897.0,256.4v-0.3M900.0,256.4v-0.5M901.0,256.4v-0.4M903.0,256.4v-1.6M904.0,256.4v-0.9M905.0,256.4v-1.6M909.0,256.4v-0.8M912.0,256.4v-0.3M913.0,256.4v-1.3M914.0,256.4v-0.9M917.0,256.4v-1.4M918.0,256.4v-0.5M919.0,256.4v-0.7M922.0,256.4v-0.6M923.0,256.4v-0.3M925.0,256.4v-1.5M926.0,256.4v-0.6M927.0,256.4v-0.9M929.0,256.4v-1.1M931.0,256.4v-1.1M932.0,256.4v-0.3M934.0,256.4v-0.4M935.0,256.4v-1.4M938.0,256.4v-0.4M946.0,256.4v-0.8M948.0,256.4v-0.4M954.0,256.4v-0.7M955.0,256.4v-0.4M957.0,256.4v-0.4M958.0,256.4v-1.5M960.0,256.4v-0.9M961.0,256.4v-0.3M962.0,256.4v-0.4M963.0,256.4v-1.0M965.0,256.4v-0.4M966.0,256.4v-0.6M967.0,256.4v-1.6M969.0,256.4v-1.0M970.0,256.4v-0.7M971.0,256.4v-0.6M977.0,256.4v-0.7M981.0,256.4v-1.0M982.0,256.4v-1.1M983.0,256.4v-0.6M987.0,256.4v-0.3M989.0,256.4v-0.3M991.0,256.4v-1.6M992.0,256.4v-1.6M993.0,256.4v-0.4M995.0,256.4v-1.6M1000.0,256.4v-0.4M1001.0,256.4v-0.4M1003.0,256.4v-0.4M1012.0,256.4v-0.5M1013.0,256.4v-0.4M1014.0,256.4v-0.8M1015.0,256.4v-0.6M1016.0,256.4v-0.7M1017.0,256.4v-1.2M1020.0,256.4v-1.6M1022.0,256.4v-0.7M1023.0,256.4v-0.6M1025.0,256.4v-1.0M1026.0,256.4v-1.2M1027.0,256.4v-0.5M1028.0,256.4v-0.7M1029.0,256.4v-0.9M1031.0,256.4v-0.4M1032.0,256.4v-0.4M1033.0,256.4v-1.0M1034.0,256.4v-0.9M1035.0,256.4v-1.0M1036.0,256.4v-0.5M1037.0,256.4v-1.2M1038.0,256.4v-0.6M1039.0,256.4v-0.7M1045.0,256.4v-1.0M1046.0,256.4v-0.4M1047.0,256.4v-0.5M1048.0,256.4v-0.5M1049.0,256.4v-0.6M1050.0,256.4v-0.4M1052.0,256.4v-0.9M1053.0,256.4v-0.8M1054.0,256.4v-0.4M1055.0,256.4v-0.4M1056.0,256.4v-0.6M1058.0,256.4v-0.7M1062.0,256.4v-0.7M1064.0,256.4v-0.7M1065.0,256.4v-1.6M1066.0,256.4v-0.4M1068.0,256.4v-0.4M1069.0,256.4v-0.6M1070.0,256.4v-0.8M1071.0,256.4v-0.5M1072.0,256.4v-0.6M1076.0,256.4v-0.7M1078.0,256.4v-0.5M1082.0,256.4v-0.6M1083.0,256.4v-0.6M1084.0,256.4v-0.6M1086.0,256.4v-0.4M1087.0,256.4v-0.3M1088.0,256.4v-0.3M1090.0,256.4v-1.2M1092.0,256.4v-1.6M1093.0,256.4v-1.5M1095.0,256.4v-0.3M1096.0,256.4v-0.9M1097.0,256.4v-1.6M1098.0,256.4v-0.3M1101.0,256.4v-1.6M1103.0,256.4v-0.5M1105.0,256.4v-0.4M1106.0,256.4v-1.6M1108.0,256.4v-0.9M1109.0,256.4v-0.4M1110.0,256.4v-1.2M1111.0,256.4v-0.7M1113.0,256.4v-1.3M1114.0,256.4v-0.4M1117.0,256.4v-0.4M1118.0,256.4v-0.3M1123.0,256.4v-1.0M1125.0,256.4v-0.8M1126.0,256.4v-1.0M1128.0,256.4v-1.4M1129.0,256.4v-0.7M1130.0,256.4v-1.3M1134.0,256.4v-1.6M1135.0,256.4v-0.5M1137.0,256.4v-0.3M1141.0,256.4v-1.0M1143.0,256.4v-1.5M1146.0,256.4v-0.4M1149.0,256.4v-1.6M1150.0,256.4v-1.2M1151.0,256.4v-0.9M1152.0,256.4v-0.5M1153.0,256.4v-1.3M1154.0,256.4v-1.6M1155.0,256.4v-0.4M1156.0,256.4v-0.7M1158.0,256.4v-0.7M1159.0,256.4v-0.3M1160.0,256.4v-0.8M1161.0,256.4v-0.6M1164.0,256.4v-1.4M1166.0,256.4v-0.4M1169.0,256.4v-0.7M1170.0,256.4v-1.6M1172.0,256.4v-0.6M1174.0,256.4v-0.4M1179.0,256.4v-1.3M1180.0,256.4v-0.4M1182.0,256.4v-1.3M1183.0,256.4v-1.6M1184.0,256.4v-0.3M1192.0,256.4v-0.5M1193.0,256.4v-1.2M1194.0,256.4v-0.8M1197.0,256.4v-0.4M1202.0,256.4v-1.6M1204.0,256.4v-0.4M1205.0,256.4v-0.5M1206.0,256.4v-1.1M1211.0,256.4v-0.3M1212.0,256.4v-1.6M1213.0,256.4v-1.0M1214.0,256.4v-1.1M1217.0,256.4v-0.7M1218.0,256.4v-1.2M1219.0,256.4v-0.4M1220.0,256.4v-0.5M1223.0,256.4v-1.4M1224.0,256.4v-1.0M1225.0,256.4v-1.1" stroke="#555" stroke-width="1.0" fill="none" opacity="1.0"/>
<line x1="574.50" y1="257.00" x2="1226.00" y2="257.00" stroke="#3a3a3a" stroke-width="1.5" />
<path d="M574.50,257.00V263.00M717.30,257.00V263.00M860.10,257.00V263.00M1002.90,257.00V263.00M1145.70,257.00V263.00" stroke="#3a3a3a" stroke-width="1.5"/>
<text x="1201.6" y="224.0" font-size="20.7" text-anchor="end" fill="#000" >Input</text>
<path d="M509.2,259.5 L612,270.5 L612,371.0 L575,371.0 L522,355.8 L509.2,355.8 Z" fill="url(#gb0)"/>
<path d="M469.50,355.80L490.6,355.79L491.1,355.79L491.6,355.78L492.1,355.77L492.6,355.76L493.1,355.75L493.6,355.73L494.1,355.70L494.6,355.67L495.1,355.62L495.6,355.57L496.1,355.50L496.6,355.41L497.1,355.30L497.6,355.17L498.1,355.02L498.6,354.84L499.1,354.62L499.6,354.37L500.1,354.08L500.6,353.76L501.1,353.39L501.6,352.97L502.1,352.50L502.6,351.93L503.1,351.18L503.6,350.10L504.1,348.43L504.6,345.77L505.1,341.57L505.6,335.25L506.1,326.34L506.6,314.78L507.1,301.14L507.6,286.77L508.1,273.66L508.6,264.04L509.1,259.73L509.6,261.60L510.1,269.27L510.6,281.25L511.1,295.38L511.6,309.52L512.1,322.02L512.6,332.01L513.1,339.33L513.6,344.31L514.1,347.52L514.6,349.52L515.1,350.80L515.6,351.65L516.1,352.28L516.6,352.79L517.1,353.23L517.6,353.61L518.1,353.96L518.6,354.26L519.1,354.52L519.6,354.75L520.1,354.95L520.6,355.12L521.1,355.26L521.6,355.37L522.1,355.46L522.6,355.54L523.1,355.60L523.6,355.65L524.1,355.69L524.6,355.72L525.1,355.74L525.6,355.75L526.1,355.77L526.6,355.78L527.1,355.78L527.6,355.79L549.00,355.80Z" fill="#2f5a9a"/>
<line x1="469.50" y1="355.80" x2="549.00" y2="355.80" stroke="#222" stroke-width="1.5" />
<path d="M576.0,370.3v-2.6M580.0,370.3v-0.7M581.0,370.3v-1.1M582.0,370.3v-2.6M583.0,370.3v-1.3M584.0,370.3v-1.0M585.0,370.3v-1.4M586.0,370.3v-0.6M587.0,370.3v-0.8M589.0,370.3v-1.5M591.0,370.3v-2.5M592.0,370.3v-1.0M593.0,370.3v-0.4M596.0,370.3v-1.0M597.0,370.3v-1.2M600.0,370.3v-0.7M601.0,370.3v-0.9M602.0,370.3v-0.5M604.0,370.3v-0.9M606.0,370.3v-0.4M607.0,370.3v-0.6M608.0,370.3v-2.6M609.0,370.3v-1.0M610.0,370.3v-2.2M611.0,370.3v-0.6M614.0,370.3v-2.6M615.0,370.3v-1.2M616.0,370.3v-0.4M618.0,370.3v-0.7M619.0,370.3v-1.1M620.0,370.3v-0.5M622.0,370.3v-1.1M623.0,370.3v-2.6M626.0,370.3v-0.4M627.0,370.3v-0.5M628.0,370.3v-1.1M630.0,370.3v-1.6M631.0,370.3v-1.3M632.0,370.3v-0.7M634.0,370.3v-2.6M635.0,370.3v-0.4M636.0,370.3v-1.7M639.0,370.3v-1.4M640.0,370.3v-0.3M641.0,370.3v-2.6M642.0,370.3v-0.7M645.0,370.3v-0.5M646.0,370.3v-1.1M647.0,370.3v-2.6M649.0,370.3v-0.5M651.0,370.3v-2.6M655.0,370.3v-0.5M656.0,370.3v-2.3M657.0,370.3v-2.2M658.0,370.3v-1.3M659.0,370.3v-2.6M660.0,370.3v-2.6M661.0,370.3v-0.4M663.0,370.3v-2.6M664.0,370.3v-1.4M666.0,370.3v-1.1M667.0,370.3v-0.5M668.0,370.3v-0.5M669.0,370.3v-0.4M672.0,370.3v-0.3M673.0,370.3v-0.4M674.0,370.3v-2.6M676.0,370.3v-2.6M678.0,370.3v-0.4M679.0,370.3v-1.7M680.0,370.3v-1.7M681.0,370.3v-0.6M683.0,370.3v-0.6M684.0,370.3v-0.5M685.0,370.3v-2.5M687.0,370.3v-0.5M688.0,370.3v-2.3M690.0,370.3v-0.5M691.0,370.3v-1.7M692.0,370.3v-1.5M696.0,370.3v-2.5M698.0,370.3v-1.4M699.0,370.3v-2.3M700.0,370.3v-0.4M701.0,370.3v-0.3M702.0,370.3v-2.6M703.0,370.3v-1.0M704.0,370.3v-0.3M705.0,370.3v-1.3M706.0,370.3v-0.4M707.0,370.3v-0.3M709.0,370.3v-1.4M710.0,370.3v-2.5M711.0,370.3v-1.0M712.0,370.3v-2.6M715.0,370.3v-0.6M716.0,370.3v-2.6M717.0,370.3v-2.6M718.0,370.3v-0.5M720.0,370.3v-0.6M721.0,370.3v-0.7M722.0,370.3v-2.6M724.0,370.3v-1.6M725.0,370.3v-1.3M726.0,370.3v-1.7M727.0,370.3v-1.5M728.0,370.3v-0.9M729.0,370.3v-0.4M730.0,370.3v-0.4M731.0,370.3v-0.4M732.0,370.3v-1.5M735.0,370.3v-1.4M739.0,370.3v-0.8M740.0,370.3v-0.4M741.0,370.3v-2.6M742.0,370.3v-2.1M743.0,370.3v-2.6M744.0,370.3v-0.3M747.0,370.3v-0.7M748.0,370.3v-1.2M749.0,370.3v-0.6M751.0,370.3v-0.5M752.0,370.3v-1.0M753.0,370.3v-1.1M754.0,370.3v-1.4M755.0,370.3v-1.9M756.0,370.3v-1.1M758.0,370.3v-1.8M759.0,370.3v-0.3M760.0,370.3v-0.8M761.0,370.3v-0.5M762.0,370.3v-1.3M767.0,370.3v-2.2M768.0,370.3v-0.9M769.0,370.3v-0.4M770.0,370.3v-0.5M771.0,370.3v-2.6M772.0,370.3v-0.7M774.0,370.3v-1.7M775.0,370.3v-1.1M776.0,370.3v-2.6M778.0,370.3v-0.6M779.0,370.3v-1.7M780.0,370.3v-1.8M781.0,370.3v-2.5M783.0,370.3v-0.3M786.0,370.3v-2.6M787.0,370.3v-0.9M788.0,370.3v-2.6M789.0,370.3v-0.5M790.0,370.3v-2.0M791.0,370.3v-0.6M792.0,370.3v-0.3M793.0,370.3v-1.5M794.0,370.3v-2.6M796.0,370.3v-0.9M797.0,370.3v-1.0M799.0,370.3v-0.5M803.0,370.3v-0.9M804.0,370.3v-1.1M807.0,370.3v-0.4M808.0,370.3v-1.1M810.0,370.3v-0.4M812.0,370.3v-1.6M813.0,370.3v-0.8M816.0,370.3v-0.5M817.0,370.3v-0.8M818.0,370.3v-1.0M821.0,370.3v-1.2M822.0,370.3v-0.5M823.0,370.3v-0.3M824.0,370.3v-0.4M825.0,370.3v-2.6M826.0,370.3v-0.4M827.0,370.3v-0.8M828.0,370.3v-0.4M829.0,370.3v-0.5M830.0,370.3v-2.0M831.0,370.3v-2.6M832.0,370.3v-0.5M834.0,370.3v-1.3M837.0,370.3v-2.3M838.0,370.3v-0.6M839.0,370.3v-1.7M840.0,370.3v-0.5M841.0,370.3v-2.1M842.0,370.3v-0.6M845.0,370.3v-0.8M846.0,370.3v-1.0M847.0,370.3v-2.4M849.0,370.3v-1.0M850.0,370.3v-0.5M851.0,370.3v-0.7M853.0,370.3v-0.3M854.0,370.3v-0.7M855.0,370.3v-2.6M857.0,370.3v-0.7M858.0,370.3v-1.6M859.0,370.3v-2.6M862.0,370.3v-2.6M863.0,370.3v-2.6M864.0,370.3v-0.7M866.0,370.3v-2.6M867.0,370.3v-0.5M868.0,370.3v-2.3M869.0,370.3v-1.0M870.0,370.3v-1.7M872.0,370.3v-1.5M874.0,370.3v-0.5M875.0,370.3v-1.9M876.0,370.3v-1.8M879.0,370.3v-0.5M880.0,370.3v-0.7M881.0,370.3v-0.5M884.0,370.3v-1.3M885.0,370.3v-2.3M887.0,370.3v-0.8M888.0,370.3v-1.4M890.0,370.3v-1.8M892.0,370.3v-0.9M893.0,370.3v-0.8M894.0,370.3v-1.0M895.0,370.3v-0.4M896.0,370.3v-0.5M897.0,370.3v-0.9M898.0,370.3v-0.6M899.0,370.3v-1.1M900.0,370.3v-0.6M901.0,370.3v-0.6M903.0,370.3v-1.0M904.0,370.3v-0.7M906.0,370.3v-1.4M907.0,370.3v-1.5M908.0,370.3v-0.6M910.0,370.3v-0.6M913.0,370.3v-0.6M915.0,370.3v-0.6M916.0,370.3v-0.7M918.0,370.3v-1.0M920.0,370.3v-1.3M921.0,370.3v-1.5M922.0,370.3v-0.7M924.0,370.3v-0.7M925.0,370.3v-0.5M926.0,370.3v-2.6M928.0,370.3v-1.9M929.0,370.3v-2.6M930.0,370.3v-1.3M931.0,370.3v-1.7M933.0,370.3v-2.6M934.0,370.3v-0.7M935.0,370.3v-2.6M936.0,370.3v-2.5M938.0,370.3v-1.6M939.0,370.3v-2.6M941.0,370.3v-0.4M942.0,370.3v-1.4M944.0,370.3v-2.3M945.0,370.3v-0.3M946.0,370.3v-1.7M948.0,370.3v-0.7M949.0,370.3v-2.5M951.0,370.3v-0.3M952.0,370.3v-0.7M953.0,370.3v-0.4M957.0,370.3v-2.6M958.0,370.3v-1.1M959.0,370.3v-2.3M961.0,370.3v-1.5M963.0,370.3v-0.8M964.0,370.3v-1.0M965.0,370.3v-0.4M966.0,370.3v-2.1M967.0,370.3v-0.8M968.0,370.3v-0.9M969.0,370.3v-2.1M971.0,370.3v-2.6M972.0,370.3v-1.0M973.0,370.3v-0.5M974.0,370.3v-1.6M975.0,370.3v-0.3M976.0,370.3v-2.6M977.0,370.3v-0.9M978.0,370.3v-0.4M979.0,370.3v-1.4M980.0,370.3v-0.6M982.0,370.3v-1.4M984.0,370.3v-1.7M986.0,370.3v-1.0M987.0,370.3v-2.6M988.0,370.3v-0.9M989.0,370.3v-1.1M990.0,370.3v-0.4M994.0,370.3v-1.0M995.0,370.3v-0.6M996.0,370.3v-0.7M997.0,370.3v-2.3M1000.0,370.3v-1.1M1003.0,370.3v-0.4M1005.0,370.3v-0.4M1007.0,370.3v-0.9M1008.0,370.3v-0.9M1010.0,370.3v-1.0M1011.0,370.3v-0.6M1013.0,370.3v-2.6M1017.0,370.3v-1.0M1018.0,370.3v-2.1M1019.0,370.3v-1.5M1020.0,370.3v-0.5M1021.0,370.3v-0.3M1023.0,370.3v-1.0M1024.0,370.3v-0.8M1025.0,370.3v-0.4M1026.0,370.3v-1.0M1027.0,370.3v-0.6M1028.0,370.3v-2.6M1029.0,370.3v-1.3M1031.0,370.3v-2.3M1033.0,370.3v-0.8M1034.0,370.3v-0.5M1037.0,370.3v-1.5M1039.0,370.3v-0.8M1040.0,370.3v-2.6M1043.0,370.3v-0.9M1044.0,370.3v-0.7M1045.0,370.3v-1.0M1046.0,370.3v-1.7M1048.0,370.3v-0.4M1049.0,370.3v-0.4M1051.0,370.3v-2.2M1052.0,370.3v-1.5M1053.0,370.3v-1.3M1055.0,370.3v-1.9M1056.0,370.3v-1.4M1057.0,370.3v-0.6M1058.0,370.3v-1.4M1059.0,370.3v-0.6M1064.0,370.3v-0.4M1065.0,370.3v-1.4M1066.0,370.3v-1.2M1067.0,370.3v-1.9M1068.0,370.3v-1.2M1069.0,370.3v-0.3M1070.0,370.3v-0.8M1071.0,370.3v-0.6M1072.0,370.3v-1.6M1073.0,370.3v-0.7M1074.0,370.3v-0.3M1075.0,370.3v-1.0M1076.0,370.3v-2.6M1078.0,370.3v-2.1M1080.0,370.3v-0.3M1082.0,370.3v-1.4M1083.0,370.3v-2.6M1084.0,370.3v-1.4M1085.0,370.3v-0.4M1086.0,370.3v-2.1M1087.0,370.3v-0.4M1089.0,370.3v-2.4M1090.0,370.3v-1.0M1091.0,370.3v-1.2M1092.0,370.3v-1.1M1093.0,370.3v-2.6M1094.0,370.3v-0.6M1095.0,370.3v-1.8M1096.0,370.3v-1.2M1097.0,370.3v-1.9M1098.0,370.3v-0.6M1099.0,370.3v-1.3M1100.0,370.3v-0.8M1101.0,370.3v-0.4M1103.0,370.3v-1.0M1105.0,370.3v-2.4M1109.0,370.3v-2.6M1110.0,370.3v-0.4M1114.0,370.3v-1.2M1115.0,370.3v-1.0M1116.0,370.3v-1.2M1117.0,370.3v-1.3M1119.0,370.3v-0.9M1120.0,370.3v-0.5M1121.0,370.3v-1.7M1122.0,370.3v-1.7M1123.0,370.3v-2.2M1125.0,370.3v-2.0M1126.0,370.3v-2.5M1127.0,370.3v-2.6M1132.0,370.3v-1.9M1133.0,370.3v-1.7M1134.0,370.3v-1.0M1135.0,370.3v-1.7M1136.0,370.3v-1.0M1137.0,370.3v-0.3M1140.0,370.3v-1.4M1142.0,370.3v-0.4M1143.0,370.3v-0.6M1146.0,370.3v-0.3M1147.0,370.3v-1.3M1148.0,370.3v-0.5M1149.0,370.3v-0.4M1150.0,370.3v-2.6M1151.0,370.3v-0.7M1152.0,370.3v-1.9M1153.0,370.3v-1.0M1155.0,370.3v-0.5M1156.0,370.3v-0.6M1157.0,370.3v-1.5M1158.0,370.3v-0.4M1159.0,370.3v-1.2M1160.0,370.3v-0.8M1162.0,370.3v-2.0M1164.0,370.3v-1.7M1168.0,370.3v-1.4M1169.0,370.3v-2.6M1171.0,370.3v-0.7M1172.0,370.3v-0.7M1173.0,370.3v-1.6M1175.0,370.3v-0.7M1176.0,370.3v-0.4M1177.0,370.3v-1.8M1178.0,370.3v-0.3M1179.0,370.3v-2.6M1180.0,370.3v-0.3M1182.0,370.3v-1.2M1183.0,370.3v-0.7M1185.0,370.3v-1.0M1187.0,370.3v-1.6M1188.0,370.3v-1.2M1189.0,370.3v-1.5M1190.0,370.3v-1.0M1191.0,370.3v-0.4M1192.0,370.3v-0.5M1193.0,370.3v-0.5M1194.0,370.3v-2.2M1196.0,370.3v-2.2M1199.0,370.3v-0.3M1200.0,370.3v-2.3M1201.0,370.3v-0.7M1202.0,370.3v-0.5M1203.0,370.3v-2.2M1205.0,370.3v-0.6M1206.0,370.3v-0.8M1207.0,370.3v-1.4M1208.0,370.3v-1.4M1209.0,370.3v-1.0M1210.0,370.3v-0.4M1211.0,370.3v-0.4M1213.0,370.3v-1.9M1214.0,370.3v-1.1M1215.0,370.3v-1.4M1217.0,370.3v-0.6M1218.0,370.3v-1.5M1219.0,370.3v-0.9M1221.0,370.3v-0.6M1222.0,370.3v-2.2M1225.0,370.3v-0.4M578.5,370.3v-5.0M582.5,370.3v-4.5M587.5,370.3v-6.7M592.5,370.3v-5.5M593.5,370.3v-5.5M601.5,370.3v-14.7M603.5,370.3v-4.5M613.5,370.3v-3.0M617.5,370.3v-5.3M624.5,370.3v-3.0M638.5,370.3v-4.0M641.5,370.3v-4.0M648.5,370.3v-2.5M652.5,370.3v-12.5M664.5,370.3v-10.0M672.5,370.3v-4.0M686.5,370.3v-7.2M707.5,370.3v-8.3M709.5,370.3v-9.0M711.5,370.3v-10.0M713.5,370.3v-4.0M719.5,370.3v-4.5M734.5,370.3v-4.5M737.5,370.3v-10.0M744.5,370.3v-3.0M756.5,370.3v-3.5M766.5,370.3v-5.3M779.5,370.3v-4.0M784.5,370.3v-5.0M792.5,370.3v-5.5M798.5,370.3v-3.0M804.5,370.3v-7.5M810.5,370.3v-6.7M828.5,370.3v-15.0M830.5,370.3v-3.0M836.5,370.3v-3.5M847.5,370.3v-3.5M857.5,370.3v-3.5M858.5,370.3v-3.5M863.5,370.3v-2.5M868.5,370.3v-4.0M872.5,370.3v-4.5M874.5,370.3v-4.5M878.5,370.3v-22.9M881.5,370.3v-6.0M887.5,370.3v-3.5M890.5,370.3v-3.5M900.5,370.3v-2.5M908.5,370.3v-6.7M914.5,370.3v-4.0M927.5,370.3v-4.0M937.5,370.3v-2.5M943.5,370.3v-3.5M949.5,370.3v-8.8M952.5,370.3v-5.8M955.5,370.3v-5.5M957.5,370.3v-5.8M960.5,370.3v-10.0M965.5,370.3v-5.0M972.5,370.3v-4.5M974.5,370.3v-4.5M980.5,370.3v-5.0M982.5,370.3v-8.0M989.5,370.3v-6.7M990.5,370.3v-6.7M1000.5,370.3v-9.7M1010.5,370.3v-5.0M1018.5,370.3v-7.5M1012.5,370.3v-3.8M1026.5,370.3v-5.0M1041.5,370.3v-3.0M1047.5,370.3v-6.7M1050.5,370.3v-5.0M1053.5,370.3v-7.0M1064.5,370.3v-3.5M1071.5,370.3v-7.5M1075.5,370.3v-25.0M1081.5,370.3v-4.0M1084.5,370.3v-5.0M1094.5,370.3v-5.8M1110.5,370.3v-3.5M1113.5,370.3v-3.5M1116.5,370.3v-10.0M1118.5,370.3v-3.5M1125.5,370.3v-1.7M1133.5,370.3v-1.7M1150.5,370.3v-4.0M1157.5,370.3v-3.5M1160.5,370.3v-3.5M1172.5,370.3v-5.0M1178.5,370.3v-3.8M1186.5,370.3v-4.0M1195.5,370.3v-3.5M1206.5,370.3v-3.8M1211.5,370.3v-3.5M1217.5,370.3v-2.0" stroke="#2f5a9a" stroke-width="1.0" fill="none" opacity="1.0"/>
<line x1="622.00" y1="371.00" x2="622.00" y2="275.70" stroke="#2f5a9a" stroke-width="1.5" opacity="0.8"/>
<path d="M612.3,371.0 V270.7 H631.9 V371.0" fill="none" stroke="#111" stroke-width="1.3" stroke-dasharray="4.2 3.5" stroke-dashoffset="0"/>
<line x1="574.50" y1="371.00" x2="1226.00" y2="371.00" stroke="#2b3f63" stroke-width="1.6" />
<path d="M574.50,371.00V377.00M717.30,371.00V377.00M860.10,371.00V377.00M1002.90,371.00V377.00M1145.70,371.00V377.00" stroke="#2b3f63" stroke-width="1.5"/>
<text x="1201.6" y="312.0" font-size="20.7" text-anchor="end" fill="#000" >Cascade (Cas8)</text>
<path d="M509.2,374.5 L612,385.5 L612,486.0 L575,486.0 L522,470.8 L509.2,470.8 Z" fill="url(#gb1)"/>
<path d="M469.50,470.80L490.6,470.79L491.1,470.79L491.6,470.78L492.1,470.77L492.6,470.76L493.1,470.75L493.6,470.73L494.1,470.70L494.6,470.67L495.1,470.62L495.6,470.57L496.1,470.50L496.6,470.41L497.1,470.30L497.6,470.17L498.1,470.02L498.6,469.84L499.1,469.62L499.6,469.37L500.1,469.08L500.6,468.76L501.1,468.39L501.6,467.97L502.1,467.50L502.6,466.93L503.1,466.18L503.6,465.10L504.1,463.43L504.6,460.77L505.1,456.57L505.6,450.25L506.1,441.34L506.6,429.78L507.1,416.14L507.6,401.77L508.1,388.66L508.6,379.04L509.1,374.73L509.6,376.60L510.1,384.27L510.6,396.25L511.1,410.38L511.6,424.52L512.1,437.02L512.6,447.01L513.1,454.33L513.6,459.31L514.1,462.52L514.6,464.52L515.1,465.80L515.6,466.65L516.1,467.28L516.6,467.79L517.1,468.23L517.6,468.61L518.1,468.96L518.6,469.26L519.1,469.52L519.6,469.75L520.1,469.95L520.6,470.12L521.1,470.26L521.6,470.37L522.1,470.46L522.6,470.54L523.1,470.60L523.6,470.65L524.1,470.69L524.6,470.72L525.1,470.74L525.6,470.75L526.1,470.77L526.6,470.78L527.1,470.78L527.6,470.79L549.00,470.80Z" fill="#3a9140"/>
<line x1="469.50" y1="470.80" x2="549.00" y2="470.80" stroke="#222" stroke-width="1.5" />
<path d="M576.0,485.3v-0.7M577.0,485.3v-1.1M582.0,485.3v-0.4M586.0,485.3v-2.0M587.0,485.3v-0.8M589.0,485.3v-2.0M592.0,485.3v-2.0M593.0,485.3v-1.0M594.0,485.3v-0.8M595.0,485.3v-0.3M597.0,485.3v-0.6M602.0,485.3v-0.3M603.0,485.3v-0.9M604.0,485.3v-0.7M605.0,485.3v-0.4M606.0,485.3v-0.6M607.0,485.3v-0.4M609.0,485.3v-0.6M610.0,485.3v-0.3M611.0,485.3v-0.8M612.0,485.3v-1.4M613.0,485.3v-0.3M614.0,485.3v-0.5M615.0,485.3v-0.8M616.0,485.3v-0.3M618.0,485.3v-0.8M619.0,485.3v-1.3M620.0,485.3v-0.9M621.0,485.3v-0.7M622.0,485.3v-1.1M623.0,485.3v-0.7M624.0,485.3v-0.6M625.0,485.3v-0.4M627.0,485.3v-0.6M629.0,485.3v-0.3M630.0,485.3v-0.9M631.0,485.3v-0.7M632.0,485.3v-0.6M634.0,485.3v-0.3M635.0,485.3v-0.4M636.0,485.3v-0.6M637.0,485.3v-0.3M638.0,485.3v-0.7M639.0,485.3v-1.6M641.0,485.3v-0.6M642.0,485.3v-0.9M644.0,485.3v-0.4M645.0,485.3v-2.0M647.0,485.3v-0.5M649.0,485.3v-0.9M650.0,485.3v-1.7M651.0,485.3v-0.4M653.0,485.3v-0.5M654.0,485.3v-0.5M655.0,485.3v-0.8M656.0,485.3v-0.4M657.0,485.3v-0.6M658.0,485.3v-1.1M659.0,485.3v-0.4M660.0,485.3v-0.3M661.0,485.3v-1.8M663.0,485.3v-0.7M665.0,485.3v-0.9M667.0,485.3v-2.0M671.0,485.3v-0.3M673.0,485.3v-0.3M674.0,485.3v-0.3M675.0,485.3v-0.7M679.0,485.3v-0.8M680.0,485.3v-1.7M681.0,485.3v-0.4M683.0,485.3v-1.0M687.0,485.3v-0.9M688.0,485.3v-1.0M689.0,485.3v-0.6M690.0,485.3v-0.4M691.0,485.3v-0.5M693.0,485.3v-2.0M695.0,485.3v-0.6M696.0,485.3v-1.0M697.0,485.3v-1.0M698.0,485.3v-0.4M700.0,485.3v-0.5M702.0,485.3v-1.1M704.0,485.3v-1.1M708.0,485.3v-0.3M711.0,485.3v-0.8M715.0,485.3v-0.4M716.0,485.3v-0.3M717.0,485.3v-0.6M718.0,485.3v-0.6M720.0,485.3v-1.6M721.0,485.3v-1.2M723.0,485.3v-1.1M724.0,485.3v-1.4M725.0,485.3v-0.9M727.0,485.3v-1.1M728.0,485.3v-0.6M731.0,485.3v-1.8M732.0,485.3v-0.6M737.0,485.3v-0.9M740.0,485.3v-1.4M741.0,485.3v-0.9M743.0,485.3v-1.3M744.0,485.3v-0.6M745.0,485.3v-0.9M746.0,485.3v-0.7M747.0,485.3v-1.3M748.0,485.3v-0.9M749.0,485.3v-1.1M751.0,485.3v-0.7M752.0,485.3v-0.5M753.0,485.3v-0.8M754.0,485.3v-0.3M755.0,485.3v-1.3M756.0,485.3v-0.5M760.0,485.3v-0.4M762.0,485.3v-0.4M764.0,485.3v-0.4M765.0,485.3v-0.4M766.0,485.3v-0.5M767.0,485.3v-1.2M769.0,485.3v-1.1M770.0,485.3v-0.4M771.0,485.3v-0.5M772.0,485.3v-0.7M773.0,485.3v-1.1M775.0,485.3v-0.3M776.0,485.3v-1.9M778.0,485.3v-0.6M779.0,485.3v-0.6M781.0,485.3v-0.6M782.0,485.3v-0.7M783.0,485.3v-1.6M785.0,485.3v-2.0M786.0,485.3v-0.4M787.0,485.3v-0.4M788.0,485.3v-1.4M790.0,485.3v-0.8M791.0,485.3v-0.6M793.0,485.3v-1.2M795.0,485.3v-0.4M796.0,485.3v-0.4M797.0,485.3v-0.9M799.0,485.3v-0.3M800.0,485.3v-0.3M801.0,485.3v-0.5M802.0,485.3v-1.1M804.0,485.3v-1.1M805.0,485.3v-0.3M806.0,485.3v-0.4M808.0,485.3v-0.4M809.0,485.3v-2.0M810.0,485.3v-0.6M811.0,485.3v-0.9M815.0,485.3v-0.5M816.0,485.3v-0.6M817.0,485.3v-0.9M819.0,485.3v-0.8M820.0,485.3v-1.3M821.0,485.3v-0.5M826.0,485.3v-1.5M827.0,485.3v-0.6M828.0,485.3v-0.6M829.0,485.3v-0.9M830.0,485.3v-1.4M831.0,485.3v-0.6M832.0,485.3v-0.6M833.0,485.3v-0.6M834.0,485.3v-0.7M835.0,485.3v-0.5M836.0,485.3v-0.7M838.0,485.3v-0.7M839.0,485.3v-0.4M840.0,485.3v-0.9M844.0,485.3v-0.9M845.0,485.3v-1.5M846.0,485.3v-0.6M848.0,485.3v-1.0M849.0,485.3v-0.9M850.0,485.3v-0.5M853.0,485.3v-0.3M855.0,485.3v-0.3M856.0,485.3v-0.6M857.0,485.3v-1.6M859.0,485.3v-0.5M862.0,485.3v-1.0M863.0,485.3v-0.5M864.0,485.3v-1.5M865.0,485.3v-0.4M868.0,485.3v-0.5M869.0,485.3v-1.7M870.0,485.3v-2.0M871.0,485.3v-0.4M872.0,485.3v-0.3M874.0,485.3v-0.6M879.0,485.3v-0.7M881.0,485.3v-2.0M883.0,485.3v-1.2M886.0,485.3v-0.8M888.0,485.3v-0.8M891.0,485.3v-0.9M892.0,485.3v-0.8M893.0,485.3v-1.2M894.0,485.3v-0.8M896.0,485.3v-0.6M897.0,485.3v-0.7M898.0,485.3v-0.4M899.0,485.3v-1.6M901.0,485.3v-2.0M902.0,485.3v-0.8M905.0,485.3v-0.6M906.0,485.3v-1.0M909.0,485.3v-0.8M911.0,485.3v-1.2M912.0,485.3v-0.4M915.0,485.3v-0.5M916.0,485.3v-0.3M917.0,485.3v-0.7M919.0,485.3v-1.0M921.0,485.3v-0.6M922.0,485.3v-0.6M923.0,485.3v-0.3M925.0,485.3v-0.9M926.0,485.3v-1.7M927.0,485.3v-0.9M928.0,485.3v-0.5M931.0,485.3v-2.0M932.0,485.3v-0.7M933.0,485.3v-1.1M935.0,485.3v-0.6M936.0,485.3v-2.0M937.0,485.3v-1.1M938.0,485.3v-0.6M940.0,485.3v-0.3M941.0,485.3v-1.3M943.0,485.3v-0.7M944.0,485.3v-0.6M945.0,485.3v-1.4M946.0,485.3v-1.0M950.0,485.3v-0.3M951.0,485.3v-0.5M952.0,485.3v-1.0M953.0,485.3v-1.3M955.0,485.3v-1.1M956.0,485.3v-1.0M957.0,485.3v-1.2M958.0,485.3v-0.5M960.0,485.3v-1.1M961.0,485.3v-1.0M962.0,485.3v-0.7M963.0,485.3v-1.5M966.0,485.3v-0.5M967.0,485.3v-1.0M969.0,485.3v-0.8M970.0,485.3v-1.6M972.0,485.3v-0.6M973.0,485.3v-0.7M974.0,485.3v-0.4M977.0,485.3v-0.8M978.0,485.3v-0.9M979.0,485.3v-0.4M981.0,485.3v-1.0M982.0,485.3v-0.9M984.0,485.3v-0.5M985.0,485.3v-1.4M986.0,485.3v-1.3M987.0,485.3v-0.4M988.0,485.3v-0.4M989.0,485.3v-0.5M993.0,485.3v-0.7M995.0,485.3v-0.5M996.0,485.3v-0.3M997.0,485.3v-0.4M1000.0,485.3v-2.0M1003.0,485.3v-0.6M1004.0,485.3v-0.9M1006.0,485.3v-0.5M1008.0,485.3v-0.4M1011.0,485.3v-2.0M1012.0,485.3v-1.2M1013.0,485.3v-0.4M1014.0,485.3v-0.5M1016.0,485.3v-0.9M1017.0,485.3v-0.3M1018.0,485.3v-1.8M1019.0,485.3v-0.9M1020.0,485.3v-1.0M1021.0,485.3v-2.0M1028.0,485.3v-0.5M1029.0,485.3v-1.2M1030.0,485.3v-0.4M1031.0,485.3v-1.8M1032.0,485.3v-1.4M1034.0,485.3v-0.5M1035.0,485.3v-0.3M1037.0,485.3v-1.9M1039.0,485.3v-0.5M1040.0,485.3v-0.6M1041.0,485.3v-1.9M1042.0,485.3v-0.7M1044.0,485.3v-0.4M1046.0,485.3v-2.0M1047.0,485.3v-2.0M1052.0,485.3v-1.4M1053.0,485.3v-1.4M1054.0,485.3v-1.1M1056.0,485.3v-0.9M1057.0,485.3v-0.7M1058.0,485.3v-0.6M1059.0,485.3v-2.0M1062.0,485.3v-0.8M1063.0,485.3v-1.7M1064.0,485.3v-0.7M1066.0,485.3v-0.5M1067.0,485.3v-0.9M1072.0,485.3v-0.4M1076.0,485.3v-0.7M1078.0,485.3v-0.8M1081.0,485.3v-1.6M1083.0,485.3v-1.6M1084.0,485.3v-1.2M1085.0,485.3v-1.3M1087.0,485.3v-0.4M1089.0,485.3v-1.6M1090.0,485.3v-1.1M1091.0,485.3v-0.6M1092.0,485.3v-0.4M1094.0,485.3v-1.0M1095.0,485.3v-0.4M1096.0,485.3v-0.6M1100.0,485.3v-0.8M1101.0,485.3v-0.5M1103.0,485.3v-1.2M1105.0,485.3v-0.3M1108.0,485.3v-1.1M1111.0,485.3v-0.4M1113.0,485.3v-1.4M1115.0,485.3v-2.0M1117.0,485.3v-1.4M1118.0,485.3v-0.7M1120.0,485.3v-0.4M1125.0,485.3v-2.0M1126.0,485.3v-2.0M1127.0,485.3v-1.6M1130.0,485.3v-1.4M1132.0,485.3v-0.8M1134.0,485.3v-2.0M1136.0,485.3v-1.0M1140.0,485.3v-1.1M1141.0,485.3v-0.4M1143.0,485.3v-0.3M1144.0,485.3v-1.5M1146.0,485.3v-0.5M1149.0,485.3v-0.9M1150.0,485.3v-0.7M1154.0,485.3v-0.6M1155.0,485.3v-0.4M1158.0,485.3v-0.6M1159.0,485.3v-0.7M1160.0,485.3v-1.0M1161.0,485.3v-0.5M1164.0,485.3v-0.8M1165.0,485.3v-0.3M1166.0,485.3v-0.8M1168.0,485.3v-1.0M1170.0,485.3v-1.1M1171.0,485.3v-1.2M1172.0,485.3v-0.4M1174.0,485.3v-1.4M1175.0,485.3v-0.4M1176.0,485.3v-1.2M1179.0,485.3v-1.1M1183.0,485.3v-0.5M1185.0,485.3v-0.4M1186.0,485.3v-0.4M1187.0,485.3v-0.4M1189.0,485.3v-0.8M1190.0,485.3v-1.0M1191.0,485.3v-1.2M1193.0,485.3v-0.7M1195.0,485.3v-0.8M1197.0,485.3v-1.2M1198.0,485.3v-1.8M1199.0,485.3v-0.4M1200.0,485.3v-0.4M1201.0,485.3v-0.5M1202.0,485.3v-0.5M1204.0,485.3v-2.0M1209.0,485.3v-1.0M1212.0,485.3v-0.7M1215.0,485.3v-0.5M1216.0,485.3v-0.5M1217.0,485.3v-0.4M1218.0,485.3v-0.7M1220.0,485.3v-1.2M1221.0,485.3v-0.8M1224.0,485.3v-0.4M1225.0,485.3v-0.4M588.5,485.3v-3.0M592.5,485.3v-3.0M653.5,485.3v-5.0M664.5,485.3v-4.5M669.5,485.3v-2.5M686.5,485.3v-3.0M709.5,485.3v-5.0M738.5,485.3v-5.0M828.5,485.3v-7.0M878.5,485.3v-9.8M908.5,485.3v-4.0M949.5,485.3v-6.0M960.5,485.3v-5.0M983.5,485.3v-3.5M1026.5,485.3v-3.5M1047.5,485.3v-3.5M1075.5,485.3v-12.0M1086.5,485.3v-3.5M1117.5,485.3v-5.0M1179.5,485.3v-2.5" stroke="#3a9140" stroke-width="1.0" fill="none" opacity="1.0"/>
<line x1="622.00" y1="486.00" x2="622.00" y2="390.70" stroke="#3a9140" stroke-width="1.5" opacity="0.8"/>
<path d="M612.3,486.0 V385.7 H631.9 V486.0" fill="none" stroke="#111" stroke-width="1.3" stroke-dasharray="4.2 3.5" stroke-dashoffset="0"/>
<line x1="574.50" y1="486.00" x2="1226.00" y2="486.00" stroke="#222" stroke-width="1.6" />
<path d="M574.50,486.00V492.00M717.30,486.00V492.00M860.10,486.00V492.00M1002.90,486.00V492.00M1145.70,486.00V492.00" stroke="#222" stroke-width="1.5"/>
<text x="1201.6" y="433.0" font-size="20.7" text-anchor="end" fill="#000" >TniQ</text>
<path d="M509.2,489.5 L612,500.5 L612,601.0 L575,601.0 L522,585.8 L509.2,585.8 Z" fill="url(#gb2)"/>
<path d="M469.50,585.80L490.6,585.79L491.1,585.79L491.6,585.78L492.1,585.77L492.6,585.76L493.1,585.75L493.6,585.73L494.1,585.70L494.6,585.67L495.1,585.62L495.6,585.57L496.1,585.50L496.6,585.41L497.1,585.30L497.6,585.17L498.1,585.02L498.6,584.84L499.1,584.62L499.6,584.37L500.1,584.08L500.6,583.76L501.1,583.39L501.6,582.97L502.1,582.50L502.6,581.93L503.1,581.18L503.6,580.10L504.1,578.43L504.6,575.77L505.1,571.57L505.6,565.25L506.1,556.34L506.6,544.78L507.1,531.14L507.6,516.77L508.1,503.66L508.6,494.04L509.1,489.73L509.6,491.60L510.1,499.27L510.6,511.25L511.1,525.38L511.6,539.52L512.1,552.02L512.6,562.01L513.1,569.33L513.6,574.31L514.1,577.52L514.6,579.52L515.1,580.80L515.6,581.65L516.1,582.28L516.6,582.79L517.1,583.23L517.6,583.61L518.1,583.96L518.6,584.26L519.1,584.52L519.6,584.75L520.1,584.95L520.6,585.12L521.1,585.26L521.6,585.37L522.1,585.46L522.6,585.54L523.1,585.60L523.6,585.65L524.1,585.69L524.6,585.72L525.1,585.74L525.6,585.75L526.1,585.77L526.6,585.78L527.1,585.78L527.6,585.79L549.00,585.80Z" fill="#fa9414"/>
<line x1="469.50" y1="585.80" x2="549.00" y2="585.80" stroke="#555" stroke-width="1.5" />
<line x1="622.00" y1="601.00" x2="622.00" y2="505.70" stroke="#fa9414" stroke-width="1.5" opacity="0.8"/>
<path d="M612.3,601.0 V500.7 H631.9 V601.0" fill="none" stroke="#111" stroke-width="1.3" stroke-dasharray="4.2 3.5" stroke-dashoffset="0"/>
<line x1="574.50" y1="601.00" x2="1226.00" y2="601.00" stroke="#6e6e6e" stroke-width="1.6" />
<path d="M574.50,601.00V607.00M717.30,601.00V607.00M860.10,601.00V607.00M1002.90,601.00V607.00M1145.70,601.00V607.00" stroke="#6e6e6e" stroke-width="1.5"/>
<text x="1201.6" y="539.7" font-size="20.7" text-anchor="end" fill="#000" >TnsC</text>
<path d="M509.2,604.0 L612,615.0 L612,715.5 L575,715.5 L522,700.3 L509.2,700.3 Z" fill="url(#gb3)"/>
<path d="M469.50,700.30L490.6,700.29L491.1,700.29L491.6,700.28L492.1,700.27L492.6,700.26L493.1,700.25L493.6,700.23L494.1,700.20L494.6,700.17L495.1,700.12L495.6,700.07L496.1,700.00L496.6,699.91L497.1,699.80L497.6,699.67L498.1,699.52L498.6,699.34L499.1,699.12L499.6,698.87L500.1,698.58L500.6,698.26L501.1,697.89L501.6,697.47L502.1,697.00L502.6,696.43L503.1,695.68L503.6,694.60L504.1,692.93L504.6,690.27L505.1,686.07L505.6,679.75L506.1,670.84L506.6,659.28L507.1,645.64L507.6,631.27L508.1,618.16L508.6,608.54L509.1,604.23L509.6,606.10L510.1,613.77L510.6,625.75L511.1,639.88L511.6,654.02L512.1,666.52L512.6,676.51L513.1,683.83L513.6,688.81L514.1,692.02L514.6,694.02L515.1,695.30L515.6,696.15L516.1,696.78L516.6,697.29L517.1,697.73L517.6,698.11L518.1,698.46L518.6,698.76L519.1,699.02L519.6,699.25L520.1,699.45L520.6,699.62L521.1,699.76L521.6,699.87L522.1,699.96L522.6,700.04L523.1,700.10L523.6,700.15L524.1,700.19L524.6,700.22L525.1,700.24L525.6,700.25L526.1,700.27L526.6,700.28L527.1,700.28L527.6,700.29L549.00,700.30Z" fill="#b82d27"/>
<line x1="469.50" y1="700.30" x2="549.00" y2="700.30" stroke="#222" stroke-width="1.5" />
<path d="M581.0,714.8v-0.5M584.0,714.8v-0.3M586.0,714.8v-0.4M587.0,714.8v-0.7M590.0,714.8v-0.5M593.0,714.8v-0.7M594.0,714.8v-0.4M599.0,714.8v-1.0M600.0,714.8v-0.4M601.0,714.8v-0.6M602.0,714.8v-0.4M603.0,714.8v-0.5M606.0,714.8v-0.8M607.0,714.8v-0.7M618.0,714.8v-0.9M619.0,714.8v-0.4M620.0,714.8v-0.7M622.0,714.8v-0.4M623.0,714.8v-0.5M624.0,714.8v-0.5M631.0,714.8v-0.6M636.0,714.8v-0.8M642.0,714.8v-0.8M656.0,714.8v-0.5M661.0,714.8v-0.3M674.0,714.8v-0.5M679.0,714.8v-1.0M681.0,714.8v-0.4M684.0,714.8v-0.5M689.0,714.8v-0.3M692.0,714.8v-0.8M693.0,714.8v-0.3M699.0,714.8v-0.5M700.0,714.8v-0.4M702.0,714.8v-0.3M703.0,714.8v-0.3M704.0,714.8v-0.4M706.0,714.8v-0.4M707.0,714.8v-0.3M708.0,714.8v-0.6M710.0,714.8v-0.5M712.0,714.8v-0.4M715.0,714.8v-0.8M718.0,714.8v-0.4M719.0,714.8v-0.5M724.0,714.8v-0.3M730.0,714.8v-0.4M731.0,714.8v-0.5M740.0,714.8v-0.6M742.0,714.8v-0.5M743.0,714.8v-0.5M744.0,714.8v-0.8M747.0,714.8v-0.6M752.0,714.8v-0.6M753.0,714.8v-0.4M755.0,714.8v-1.0M763.0,714.8v-0.7M771.0,714.8v-0.5M772.0,714.8v-0.8M776.0,714.8v-1.0M779.0,714.8v-0.4M782.0,714.8v-1.0M783.0,714.8v-0.4M786.0,714.8v-0.6M788.0,714.8v-0.4M789.0,714.8v-1.0M790.0,714.8v-0.5M801.0,714.8v-1.0M805.0,714.8v-0.4M810.0,714.8v-0.5M819.0,714.8v-1.0M824.0,714.8v-0.4M829.0,714.8v-0.4M831.0,714.8v-0.4M834.0,714.8v-0.4M836.0,714.8v-0.3M841.0,714.8v-0.6M847.0,714.8v-0.6M849.0,714.8v-0.8M854.0,714.8v-0.7M855.0,714.8v-0.5M857.0,714.8v-0.6M858.0,714.8v-0.4M861.0,714.8v-0.8M863.0,714.8v-0.7M866.0,714.8v-0.3M869.0,714.8v-0.5M871.0,714.8v-0.4M876.0,714.8v-0.9M885.0,714.8v-0.4M895.0,714.8v-0.3M898.0,714.8v-0.5M901.0,714.8v-0.5M902.0,714.8v-0.4M905.0,714.8v-0.3M907.0,714.8v-0.8M909.0,714.8v-0.8M914.0,714.8v-0.3M916.0,714.8v-0.6M922.0,714.8v-0.5M927.0,714.8v-0.4M935.0,714.8v-0.5M947.0,714.8v-0.3M950.0,714.8v-0.6M951.0,714.8v-0.4M952.0,714.8v-0.5M953.0,714.8v-0.5M962.0,714.8v-0.3M964.0,714.8v-0.5M969.0,714.8v-0.6M970.0,714.8v-0.3M971.0,714.8v-0.3M982.0,714.8v-0.5M984.0,714.8v-0.3M990.0,714.8v-0.4M991.0,714.8v-0.4M994.0,714.8v-0.5M999.0,714.8v-0.4M1001.0,714.8v-0.6M1002.0,714.8v-0.3M1006.0,714.8v-0.3M1007.0,714.8v-0.4M1010.0,714.8v-0.7M1012.0,714.8v-0.7M1014.0,714.8v-0.3M1015.0,714.8v-0.4M1022.0,714.8v-0.7M1024.0,714.8v-0.4M1026.0,714.8v-0.3M1027.0,714.8v-0.4M1030.0,714.8v-0.9M1040.0,714.8v-0.3M1046.0,714.8v-0.7M1049.0,714.8v-0.5M1053.0,714.8v-0.4M1055.0,714.8v-0.4M1060.0,714.8v-0.4M1061.0,714.8v-0.4M1069.0,714.8v-0.3M1078.0,714.8v-1.0M1079.0,714.8v-0.3M1081.0,714.8v-0.3M1082.0,714.8v-1.0M1090.0,714.8v-0.6M1093.0,714.8v-0.7M1099.0,714.8v-0.4M1100.0,714.8v-0.5M1104.0,714.8v-0.5M1105.0,714.8v-0.7M1107.0,714.8v-0.4M1108.0,714.8v-0.4M1109.0,714.8v-0.3M1112.0,714.8v-0.4M1117.0,714.8v-0.4M1122.0,714.8v-0.4M1123.0,714.8v-0.3M1124.0,714.8v-0.6M1125.0,714.8v-0.7M1135.0,714.8v-0.9M1140.0,714.8v-0.3M1142.0,714.8v-0.5M1143.0,714.8v-0.5M1144.0,714.8v-0.4M1153.0,714.8v-0.4M1154.0,714.8v-0.6M1164.0,714.8v-0.9M1165.0,714.8v-0.6M1166.0,714.8v-0.5M1167.0,714.8v-0.9M1168.0,714.8v-0.8M1170.0,714.8v-0.4M1176.0,714.8v-0.8M1181.0,714.8v-0.5M1196.0,714.8v-0.6M1199.0,714.8v-0.5M1215.0,714.8v-0.5M1217.0,714.8v-0.3M1218.0,714.8v-0.4M1220.0,714.8v-1.0M1221.0,714.8v-0.3M1223.0,714.8v-0.4" stroke="#b82d27" stroke-width="1.0" fill="none" opacity="1.0"/>
<line x1="622.00" y1="715.50" x2="622.00" y2="620.20" stroke="#b82d27" stroke-width="1.5" opacity="0.8"/>
<path d="M612.3,715.5 V615.2 H631.9 V715.5" fill="none" stroke="#111" stroke-width="1.3" stroke-dasharray="4.2 3.5" stroke-dashoffset="0"/>
<line x1="574.50" y1="715.50" x2="1226.00" y2="715.50" stroke="#2a2a2a" stroke-width="1.6" />
<path d="M574.50,715.50V721.50M717.30,715.50V721.50M860.10,715.50V721.50M1002.90,715.50V721.50M1145.70,715.50V721.50" stroke="#2a2a2a" stroke-width="1.5"/>
<text x="1201.6" y="658.0" font-size="20.7" text-anchor="end" fill="#000" >TnsB</text>
<text x="574.5" y="742.0" font-size="20.7" text-anchor="middle" fill="#000" >0</text>
<text x="717.3" y="742.0" font-size="20.7" text-anchor="middle" fill="#000" >1.0</text>
<text x="860.1" y="742.0" font-size="20.7" text-anchor="middle" fill="#000" >2.0</text>
<text x="1002.9" y="742.0" font-size="20.7" text-anchor="middle" fill="#000" >3.0</text>
<text x="1132.0" y="742.0" font-size="20.7" text-anchor="start" fill="#000" >4.0 Mb</text>
<text x="1254.0" y="199.0" font-size="31" font-weight="bold" fill="#000" stroke="#000" stroke-width="1.6" stroke-linejoin="round">d</text>
<text x="1282.0" y="213.0" font-size="20.7" text-anchor="start" fill="#000" >pDonor</text>
<path d="M1273,257 L1275,254.6 L1300,254.6 L1320,254.2 L1338,254.8 L1340,257 Z" fill="#555"/>
<line x1="1273.00" y1="257.00" x2="1356.00" y2="257.00" stroke="#444" stroke-width="1.4" />
<line x1="1356.00" y1="257.00" x2="1362.50" y2="257.00" stroke="#999" stroke-width="0.8" />
<path d="M1273,371 L1275,369.4 L1280,369.1 L1286,369.4 L1289,370.2 L1292,370.6 L1300,370.6 L1303,369.7 L1312,369.4 L1315,370.3 L1318,369.6 L1322,369 L1326,368.3 L1329,367.4 L1332,367.6 L1335,368.6 L1338,370 L1341,371 Z" fill="#2f5a9a"/>
<line x1="1273.00" y1="371.00" x2="1356.00" y2="371.00" stroke="#333" stroke-width="1.4" />
<path d="M1273,486 L1276,485 L1300,485.2 L1318,484.6 L1336,484.8 L1340,486 Z" fill="#3a9140"/>
<line x1="1273.00" y1="486.00" x2="1356.00" y2="486.00" stroke="#333" stroke-width="1.4" />
<path d="M1273.00,600.60L1285.5,600.60L1286.0,600.60L1286.5,600.59L1287.0,600.59L1287.5,600.59L1288.0,600.59L1288.5,600.58L1289.0,600.58L1289.5,600.57L1290.0,600.56L1290.5,600.55L1291.0,600.54L1291.5,600.52L1292.0,600.50L1292.5,600.48L1293.0,600.46L1293.5,600.43L1294.0,600.40L1294.5,600.36L1295.0,600.32L1295.5,600.27L1296.0,600.22L1296.5,600.17L1297.0,600.11L1297.5,600.04L1298.0,599.94L1298.5,599.80L1299.0,599.58L1299.5,599.23L1300.0,598.68L1300.5,597.84L1301.0,596.69L1301.5,595.22L1302.0,593.53L1302.5,591.83L1303.0,590.38L1303.5,589.44L1304.0,589.22L1304.5,589.74L1305.0,590.91L1305.5,592.50L1306.0,594.22L1306.5,595.84L1307.0,597.19L1307.5,598.21L1308.0,598.93L1308.5,599.39L1309.0,599.68L1309.5,599.86L1310.0,599.98L1310.5,600.06L1311.0,600.12L1311.5,600.17L1312.0,600.22L1312.5,600.26L1313.0,600.30L1313.5,600.33L1314.0,600.35L1314.5,600.37L1315.0,600.38L1315.5,600.38L1316.0,600.38L1316.5,600.37L1317.0,600.36L1317.5,600.34L1318.0,600.31L1318.5,600.28L1319.0,600.24L1319.5,600.19L1320.0,600.10L1320.5,599.96L1321.0,599.72L1321.5,599.32L1322.0,598.71L1322.5,597.87L1323.0,596.82L1323.5,595.68L1324.0,594.62L1324.5,593.87L1325.0,593.60L1325.5,593.87L1326.0,594.62L1326.5,595.68L1327.0,596.82L1327.5,597.87L1328.0,598.72L1328.5,599.32L1329.0,599.72L1329.5,599.97L1330.0,600.11L1330.5,600.20L1331.0,600.26L1331.5,600.31L1332.0,600.35L1332.5,600.38L1333.0,600.41L1333.5,600.44L1334.0,600.47L1334.5,600.49L1335.0,600.51L1335.5,600.53L1336.0,600.54L1336.5,600.55L1337.0,600.56L1337.5,600.57L1338.0,600.58L1338.5,600.58L1339.0,600.59L1339.5,600.59L1340.0,600.59L1340.5,600.59L1341.0,600.60L1341.5,600.60L1342.0,600.60L1342.5,600.60L1356.00,600.60Z" fill="#fa9414"/>
<line x1="1273.00" y1="600.60" x2="1356.00" y2="600.60" stroke="#333" stroke-width="1.4" />
<path d="M1273.00,715.40L1284.7,715.36L1285.2,715.35L1285.7,715.33L1286.2,715.31L1286.7,715.28L1287.2,715.25L1287.7,715.21L1288.2,715.16L1288.7,715.10L1289.2,715.02L1289.7,714.93L1290.2,714.82L1290.7,714.70L1291.2,714.55L1291.7,714.38L1292.2,714.19L1292.7,713.97L1293.2,713.72L1293.7,713.44L1294.2,713.13L1294.7,712.79L1295.2,712.42L1295.7,712.02L1296.2,711.58L1296.7,711.07L1297.2,710.46L1297.7,709.64L1298.2,708.45L1298.7,706.61L1299.2,703.76L1299.7,699.40L1300.2,693.07L1300.7,684.41L1301.2,673.45L1301.7,660.74L1302.2,647.42L1302.7,635.18L1303.2,625.86L1303.7,621.04L1304.2,621.59L1304.7,627.40L1305.2,637.45L1305.7,650.05L1306.2,663.36L1306.7,675.79L1307.2,686.31L1307.7,694.48L1308.2,700.38L1308.7,704.38L1309.2,706.97L1309.7,708.63L1310.2,709.69L1310.7,710.43L1311.2,710.97L1311.7,711.40L1312.2,711.77L1312.7,712.08L1313.2,712.34L1313.7,712.56L1314.2,712.72L1314.7,712.84L1315.2,712.90L1315.7,712.91L1316.2,712.87L1316.7,712.78L1317.2,712.64L1317.7,712.46L1318.2,712.22L1318.7,711.91L1319.2,711.50L1319.7,710.90L1320.2,709.96L1320.7,708.40L1321.2,705.88L1321.7,701.94L1322.2,696.18L1322.7,688.44L1323.2,678.97L1323.7,668.61L1324.2,658.76L1324.7,651.09L1325.2,647.06L1325.7,647.52L1326.2,652.38L1326.7,660.63L1327.2,670.72L1327.7,681.00L1328.2,690.19L1328.7,697.56L1329.2,702.95L1329.7,706.60L1330.2,708.93L1330.7,710.38L1331.2,711.29L1331.7,711.90L1332.2,712.36L1332.7,712.74L1333.2,713.07L1333.7,713.37L1334.2,713.65L1334.7,713.90L1335.2,714.12L1335.7,714.32L1336.2,714.50L1336.7,714.66L1337.2,714.79L1337.7,714.90L1338.2,715.00L1338.7,715.08L1339.2,715.14L1339.7,715.20L1340.2,715.24L1340.7,715.28L1341.2,715.31L1341.7,715.33L1342.2,715.35L1342.7,715.36L1343.2,715.37L1343.7,715.38L1356.00,715.40Z" fill="#b82d27"/>
<line x1="1273.00" y1="715.40" x2="1356.00" y2="715.40" stroke="#333" stroke-width="1.4" />
<line x1="1273.00" y1="736.70" x2="1356.00" y2="736.70" stroke="#333" stroke-width="1.4" />
<rect x="1299.2" y="730.4" width="30" height="13" fill="#e6eff8" stroke="#333" stroke-width="1"/>
<path d="M1299.2,730.4 L1307.8,736.9 L1299.2,743.4 Z" fill="#1c3f6e"/>
<path d="M1329.2,730.4 L1320.8,736.9 L1329.2,743.4 Z" fill="#1c3f6e"/>
<text x="2.5" y="804.2" font-size="31" font-weight="bold" fill="#000" stroke="#000" stroke-width="1.6" stroke-linejoin="round">e</text>
<text x="224.6" y="812.2" font-size="20.7" text-anchor="middle" fill="#000" >Cascade</text>
<path d="M9.20,911.90L9.2,911.89L9.7,911.89L10.2,911.88L10.7,911.88L11.2,911.88L11.7,911.87L12.2,911.87L12.7,911.86L13.2,911.86L13.7,911.85L14.2,911.84L14.7,911.83L15.2,911.82L15.7,911.79L16.2,911.74L16.7,911.66L17.2,911.56L17.7,911.43L18.2,911.27L18.7,911.12L19.2,910.99L19.7,910.91L20.2,910.91L20.7,910.97L21.2,911.09L21.7,911.24L22.2,911.40L22.7,911.53L23.2,911.65L23.7,911.72L24.2,911.78L24.7,911.81L25.2,911.83L25.7,911.84L26.2,911.85L26.7,911.86L27.2,911.86L27.7,911.86L28.2,911.87L28.7,911.87L29.2,911.87L29.7,911.87L30.2,911.87L30.7,911.87L31.2,911.87L31.7,911.87L32.2,911.86L32.7,911.86L33.2,911.85L33.7,911.84L34.2,911.83L34.7,911.79L35.2,911.73L35.7,911.63L36.2,911.50L36.7,911.34L37.2,911.20L37.7,911.10L38.2,911.09L38.7,911.17L39.2,911.30L39.7,911.45L40.2,911.59L40.7,911.69L41.2,911.75L41.7,911.78L42.2,911.79L42.7,911.79L43.2,911.78L43.7,911.76L44.2,911.71L44.7,911.64L45.2,911.54L45.7,911.41L46.2,911.26L46.7,911.11L47.2,910.98L47.7,910.91L48.2,910.90L48.7,910.97L49.2,911.09L49.7,911.24L50.2,911.39L50.7,911.53L51.2,911.64L51.7,911.72L52.2,911.78L52.7,911.81L53.2,911.83L53.7,911.84L54.2,911.85L54.7,911.86L55.2,911.86L55.7,911.87L56.2,911.87L56.7,911.88L57.2,911.88L57.7,911.88L58.2,911.89L58.7,911.89L59.2,911.89L59.7,911.89L60.2,911.89L60.7,911.89L61.2,911.89L61.7,911.89L62.2,911.89L62.7,911.89L63.2,911.89L63.7,911.88L64.2,911.88L64.7,911.88L65.2,911.87L65.7,911.86L66.2,911.86L66.7,911.85L67.2,911.84L67.7,911.83L68.2,911.82L68.7,911.81L69.2,911.79L69.7,911.78L70.2,911.76L70.7,911.73L71.2,911.68L71.7,911.60L72.2,911.48L72.7,911.29L73.2,911.01L73.7,910.67L74.2,910.27L74.7,909.87L75.2,909.53L75.7,909.33L76.2,909.32L76.7,909.48L77.2,909.79L77.7,910.18L78.2,910.59L78.7,910.95L79.2,911.24L79.7,911.44L80.2,911.58L80.7,911.67L81.2,911.72L81.7,911.75L82.2,911.77L82.7,911.79L83.2,911.80L83.7,911.82L84.2,911.83L84.7,911.84L85.2,911.85L85.7,911.86L86.2,911.86L86.7,911.87L87.2,911.88L87.7,911.88L88.2,911.88L88.7,911.89L89.2,911.89L89.7,911.89L90.2,911.89L90.7,911.90L91.2,911.90L91.7,911.90L92.2,911.90L92.7,911.90L93.2,911.90L93.7,911.90L200.7,911.73L201.2,911.70L201.7,911.67L202.2,911.63L202.7,911.59L203.2,911.54L203.7,911.48L204.2,911.42L204.7,911.35L205.2,911.27L205.7,911.19L206.2,911.09L206.7,910.98L207.2,910.86L207.7,910.74L208.2,910.59L208.7,910.44L209.2,910.28L209.7,910.10L210.2,909.90L210.7,909.70L211.2,909.48L211.7,909.25L212.2,909.00L212.7,908.74L213.2,908.47L213.7,908.19L214.2,907.88L214.7,907.56L215.2,907.20L215.7,906.80L216.2,906.32L216.7,905.72L217.2,904.95L217.7,903.92L218.2,902.51L218.7,900.59L219.2,897.99L219.7,894.56L220.2,890.13L220.7,884.62L221.2,877.98L221.7,870.30L222.2,861.81L222.7,852.87L223.2,843.98L223.7,835.73L224.2,828.74L224.7,823.58L225.2,820.71L225.7,820.38L226.2,822.62L226.7,827.23L227.2,833.81L227.7,841.80L228.2,850.58L228.7,859.56L229.2,868.21L229.7,876.12L230.2,883.04L230.7,888.84L231.2,893.53L231.7,897.20L232.2,900.00L232.7,902.07L233.2,903.60L233.7,904.72L234.2,905.55L234.7,906.18L235.2,906.68L235.7,907.10L236.2,907.47L236.7,907.80L237.2,908.11L237.7,908.40L238.2,908.68L238.7,908.94L239.2,909.19L239.7,909.42L240.2,909.64L240.7,909.85L241.2,910.05L241.7,910.23L242.2,910.40L242.7,910.56L243.2,910.70L243.7,910.83L244.2,910.95L244.7,911.06L245.2,911.16L245.7,911.25L246.2,911.33L246.7,911.41L247.2,911.47L247.7,911.53L248.2,911.58L248.7,911.62L249.2,911.66L249.7,911.70L250.2,911.73L429.60,911.90Z" fill="#2f5a9a"/>
<line x1="9.20" y1="911.90" x2="429.60" y2="911.90" stroke="#222" stroke-width="1.5" />
<path d="M92.10,911.90V917.70M175.70,911.90V917.70M259.10,911.90V917.70M342.50,911.90V917.70" stroke="#222" stroke-width="1.5"/>
<path d="M9.20,1010.70L35.0,1010.70L35.5,1010.70L36.0,1010.70L36.5,1010.70L37.0,1010.70L37.5,1010.70L38.0,1010.70L38.5,1010.70L39.0,1010.70L39.5,1010.70L40.0,1010.69L40.5,1010.69L41.0,1010.69L41.5,1010.68L42.0,1010.68L42.5,1010.67L43.0,1010.67L43.5,1010.66L44.0,1010.65L44.5,1010.64L45.0,1010.63L45.5,1010.61L46.0,1010.59L46.5,1010.57L47.0,1010.53L47.5,1010.46L48.0,1010.33L48.5,1010.11L49.0,1009.78L49.5,1009.37L50.0,1008.95L50.5,1008.62L51.0,1008.50L51.5,1008.62L52.0,1008.95L52.5,1009.37L53.0,1009.78L53.5,1010.11L54.0,1010.33L54.5,1010.46L55.0,1010.53L55.5,1010.57L56.0,1010.59L56.5,1010.61L57.0,1010.63L57.5,1010.64L58.0,1010.65L58.5,1010.66L59.0,1010.67L59.5,1010.67L60.0,1010.68L60.5,1010.68L61.0,1010.69L61.5,1010.69L62.0,1010.69L62.5,1010.70L63.0,1010.70L63.5,1010.70L64.0,1010.70L64.5,1010.70L65.0,1010.70L65.5,1010.70L66.0,1010.70L66.5,1010.70L67.0,1010.70L223.0,1010.70L223.5,1010.70L224.0,1010.70L224.5,1010.70L225.0,1010.70L225.5,1010.70L226.0,1010.70L226.5,1010.70L227.0,1010.70L227.5,1010.70L228.0,1010.69L228.5,1010.69L229.0,1010.69L229.5,1010.68L230.0,1010.68L230.5,1010.67L231.0,1010.67L231.5,1010.66L232.0,1010.65L232.5,1010.64L233.0,1010.63L233.5,1010.61L234.0,1010.59L234.5,1010.57L235.0,1010.53L235.5,1010.46L236.0,1010.33L236.5,1010.11L237.0,1009.78L237.5,1009.37L238.0,1008.95L238.5,1008.62L239.0,1008.50L239.5,1008.62L240.0,1008.95L240.5,1009.37L241.0,1009.78L241.5,1010.11L242.0,1010.33L242.5,1010.46L243.0,1010.53L243.5,1010.57L244.0,1010.59L244.5,1010.61L245.0,1010.63L245.5,1010.64L246.0,1010.65L246.5,1010.66L247.0,1010.67L247.5,1010.67L248.0,1010.68L248.5,1010.68L249.0,1010.69L249.5,1010.69L250.0,1010.69L250.5,1010.70L251.0,1010.70L251.5,1010.70L252.0,1010.70L252.5,1010.70L253.0,1010.70L253.5,1010.70L254.0,1010.70L254.5,1010.70L255.0,1010.70L429.60,1010.70Z" fill="#2f5a9a"/>
<line x1="9.20" y1="1010.70" x2="429.60" y2="1010.70" stroke="#222" stroke-width="1.5" />
<path d="M92.10,1010.70V1016.50M175.70,1010.70V1016.50M259.10,1010.70V1016.50M342.50,1010.70V1016.50" stroke="#222" stroke-width="1.5"/>
<path d="M9.20,1109.60L206.3,1109.60L206.8,1109.60L207.3,1109.59L207.8,1109.59L208.3,1109.59L208.8,1109.59L209.3,1109.58L209.8,1109.58L210.3,1109.57L210.8,1109.57L211.3,1109.56L211.8,1109.55L212.3,1109.54L212.8,1109.52L213.3,1109.51L213.8,1109.49L214.3,1109.47L214.8,1109.45L215.3,1109.42L215.8,1109.40L216.3,1109.37L216.8,1109.33L217.3,1109.30L217.8,1109.26L218.3,1109.21L218.8,1109.16L219.3,1109.08L219.8,1108.98L220.3,1108.81L220.8,1108.56L221.3,1108.17L221.8,1107.60L222.3,1106.82L222.8,1105.84L223.3,1104.70L223.8,1103.51L224.3,1102.41L224.8,1101.57L225.3,1101.14L225.8,1101.19L226.3,1101.71L226.8,1102.61L227.3,1103.74L227.8,1104.94L228.3,1106.05L228.8,1106.99L229.3,1107.73L229.8,1108.26L230.3,1108.62L230.8,1108.85L231.3,1109.00L231.8,1109.10L232.3,1109.17L232.8,1109.22L233.3,1109.27L233.8,1109.30L234.3,1109.34L234.8,1109.37L235.3,1109.40L235.8,1109.43L236.3,1109.45L236.8,1109.48L237.3,1109.50L237.8,1109.51L238.3,1109.53L238.8,1109.54L239.3,1109.55L239.8,1109.56L240.3,1109.57L240.8,1109.57L241.3,1109.58L241.8,1109.58L242.3,1109.59L242.8,1109.59L243.3,1109.59L243.8,1109.59L244.3,1109.60L429.60,1109.60Z" fill="#2f5a9a"/>
<line x1="9.20" y1="1109.60" x2="429.60" y2="1109.60" stroke="#222" stroke-width="1.5" />
<path d="M92.10,1109.60V1115.40M175.70,1109.60V1115.40M259.10,1109.60V1115.40M342.50,1109.60V1115.40" stroke="#222" stroke-width="1.5"/>
<path d="M9.20,1208.20L200.3,1208.02L200.8,1207.99L201.3,1207.96L201.8,1207.92L202.3,1207.87L202.8,1207.82L203.3,1207.77L203.8,1207.71L204.3,1207.64L204.8,1207.56L205.3,1207.47L205.8,1207.37L206.3,1207.27L206.8,1207.15L207.3,1207.03L207.8,1206.89L208.3,1206.74L208.8,1206.57L209.3,1206.40L209.8,1206.21L210.3,1206.01L210.8,1205.80L211.3,1205.57L211.8,1205.34L212.3,1205.09L212.8,1204.82L213.3,1204.55L213.8,1204.25L214.3,1203.94L214.8,1203.60L215.3,1203.23L215.8,1202.79L216.3,1202.25L216.8,1201.58L217.3,1200.69L217.8,1199.49L218.3,1197.86L218.8,1195.67L219.3,1192.76L219.8,1188.98L220.3,1184.21L220.8,1178.36L221.3,1171.46L221.8,1163.63L222.3,1155.13L222.8,1146.34L223.3,1137.75L223.8,1129.93L224.3,1123.46L224.8,1118.84L225.3,1116.47L225.8,1116.55L226.3,1119.07L226.8,1123.82L227.3,1130.40L227.8,1138.28L228.3,1146.90L228.8,1155.69L229.3,1164.16L229.8,1171.94L230.3,1178.77L230.8,1184.55L231.3,1189.25L231.8,1192.98L232.3,1195.83L232.8,1197.98L233.3,1199.58L233.8,1200.75L234.3,1201.63L234.8,1202.29L235.3,1202.82L235.8,1203.25L236.3,1203.63L236.8,1203.96L237.3,1204.27L237.8,1204.56L238.3,1204.84L238.8,1205.10L239.3,1205.35L239.8,1205.59L240.3,1205.81L240.8,1206.03L241.3,1206.23L241.8,1206.41L242.3,1206.59L242.8,1206.75L243.3,1206.90L243.8,1207.03L244.3,1207.16L244.8,1207.28L245.3,1207.38L245.8,1207.48L246.3,1207.56L246.8,1207.64L247.3,1207.71L247.8,1207.77L248.3,1207.83L248.8,1207.88L249.3,1207.92L249.8,1207.96L250.3,1207.99L429.60,1208.20Z" fill="#2f5a9a"/>
<line x1="9.20" y1="1208.20" x2="429.60" y2="1208.20" stroke="#222" stroke-width="1.5" />
<path d="M92.10,1208.20V1214.00M175.70,1208.20V1214.00M259.10,1208.20V1214.00M342.50,1208.20V1214.00" stroke="#222" stroke-width="1.5"/>
<text x="89.1" y="1236.5" font-size="20.7" text-anchor="middle" fill="#000" >0.332</text>
<text x="316.0" y="1236.5" font-size="20.7" text-anchor="start" fill="#000" >0.338 Mb</text>
<text x="19.3" y="851.0" font-size="20.7" text-anchor="start" fill="#000" >WT</text>
<text x="19.3" y="951.8" font-size="20.7" text-anchor="start" fill="#000" >NT</text>
<text x="22.2" y="1056.9" font-size="20.7">Δ<tspan font-style="italic">tniQ</tspan></text>
<text x="22.2" y="1150" font-size="20.7">Δ<tspan font-style="italic">tnsABC</tspan></text>
<text x="236.8" y="1150.0" font-size="20.7" text-anchor="start" fill="#000" >2.7× WT</text>
<text x="470.2" y="804.2" font-size="31" font-weight="bold" fill="#000" stroke="#000" stroke-width="1.6" stroke-linejoin="round">f</text>
<text x="687.0" y="812.2" font-size="20.7" text-anchor="middle" fill="#000" >TnsC</text>
<path d="M476.00,911.90L663.9,911.88L664.4,911.88L664.9,911.87L665.4,911.86L665.9,911.85L666.4,911.83L666.9,911.81L667.4,911.78L667.9,911.75L668.4,911.70L668.9,911.65L669.4,911.58L669.9,911.50L670.4,911.40L670.9,911.28L671.4,911.13L671.9,910.96L672.4,910.75L672.9,910.50L673.4,910.22L673.9,909.89L674.4,909.50L674.9,909.06L675.4,908.56L675.9,908.00L676.4,907.37L676.9,906.66L677.4,905.86L677.9,904.98L678.4,903.98L678.9,902.86L679.4,901.57L679.9,900.08L680.4,898.32L680.9,896.21L681.4,893.65L681.9,890.54L682.4,886.75L682.9,882.21L683.4,876.84L683.9,870.66L684.4,863.73L684.9,856.25L685.4,848.51L685.9,840.88L686.4,833.82L686.9,827.80L687.4,823.27L687.9,820.58L688.4,819.94L688.9,821.42L689.4,824.88L689.9,830.06L690.4,836.54L690.9,843.89L691.4,851.61L691.9,859.29L692.4,866.58L692.9,873.23L693.4,879.09L693.9,884.12L694.4,888.35L694.9,891.86L695.4,894.74L695.9,897.10L696.4,899.06L696.9,900.71L697.4,902.11L697.9,903.33L698.4,904.39L698.9,905.34L699.4,906.19L699.9,906.95L700.4,907.63L700.9,908.23L701.4,908.77L701.9,909.25L702.4,909.66L702.9,910.02L703.4,910.34L703.9,910.61L704.4,910.84L704.9,911.03L705.4,911.19L705.9,911.33L706.4,911.44L706.9,911.53L707.4,911.61L707.9,911.67L708.4,911.72L708.9,911.76L709.4,911.79L709.9,911.82L710.4,911.84L710.9,911.85L711.4,911.86L711.9,911.87L712.4,911.88L896.60,911.90Z" fill="#fa9414"/>
<line x1="476.00" y1="911.90" x2="896.60" y2="911.90" stroke="#222" stroke-width="1.5" />
<path d="M555.80,911.90V917.70M639.20,911.90V917.70M722.70,911.90V917.70M806.10,911.90V917.70" stroke="#222" stroke-width="1.5"/>
<line x1="476.00" y1="1010.70" x2="896.60" y2="1010.70" stroke="#222" stroke-width="1.5" />
<path d="M555.80,1010.70V1016.50M639.20,1010.70V1016.50M722.70,1010.70V1016.50M806.10,1010.70V1016.50" stroke="#222" stroke-width="1.5"/>
<line x1="476.00" y1="1109.60" x2="896.60" y2="1109.60" stroke="#222" stroke-width="1.5" />
<path d="M555.80,1109.60V1115.40M639.20,1109.60V1115.40M722.70,1109.60V1115.40M806.10,1109.60V1115.40" stroke="#222" stroke-width="1.5"/>
<path d="M476.00,1208.20L670.3,1208.20L670.8,1208.20L671.3,1208.20L671.8,1208.20L672.3,1208.20L672.8,1208.20L673.3,1208.20L673.8,1208.19L674.3,1208.19L674.8,1208.19L675.3,1208.19L675.8,1208.18L676.3,1208.18L676.8,1208.17L677.3,1208.17L677.8,1208.16L678.3,1208.15L678.8,1208.14L679.3,1208.13L679.8,1208.12L680.3,1208.11L680.8,1208.09L681.3,1208.08L681.8,1208.06L682.3,1208.03L682.8,1208.00L683.3,1207.95L683.8,1207.88L684.3,1207.75L684.8,1207.55L685.3,1207.26L685.8,1206.86L686.3,1206.39L686.8,1205.89L687.3,1205.43L687.8,1205.11L688.3,1205.00L688.8,1205.11L689.3,1205.43L689.8,1205.89L690.3,1206.39L690.8,1206.86L691.3,1207.26L691.8,1207.55L692.3,1207.75L692.8,1207.88L693.3,1207.95L693.8,1208.00L694.3,1208.03L694.8,1208.06L695.3,1208.08L695.8,1208.09L696.3,1208.11L696.8,1208.12L697.3,1208.13L697.8,1208.14L698.3,1208.15L698.8,1208.16L699.3,1208.17L699.8,1208.17L700.3,1208.18L700.8,1208.18L701.3,1208.19L701.8,1208.19L702.3,1208.19L702.8,1208.19L703.3,1208.20L703.8,1208.20L704.3,1208.20L704.8,1208.20L705.3,1208.20L705.8,1208.20L706.3,1208.20L896.60,1208.20Z" fill="#fa9414"/>
<line x1="476.00" y1="1208.20" x2="896.60" y2="1208.20" stroke="#222" stroke-width="1.5" />
<path d="M555.80,1208.20V1214.00M639.20,1208.20V1214.00M722.70,1208.20V1214.00M806.10,1208.20V1214.00" stroke="#222" stroke-width="1.5"/>
<text x="551.5" y="1236.5" font-size="20.7" text-anchor="middle" fill="#000" >0.332</text>
<text x="778.2" y="1236.5" font-size="20.7" text-anchor="start" fill="#000" >0.338 Mb</text>
<text x="493.8" y="851.0" font-size="20.7" text-anchor="start" fill="#000" >WT</text>
<text x="493.8" y="951.8" font-size="20.7" text-anchor="start" fill="#000" >NT</text>
<text x="496.5" y="1056.9" font-size="20.7">Δ<tspan font-style="italic">tniQ</tspan></text>
<text x="496.5" y="1150" font-size="20.7">Δ<tspan font-style="italic">tnsAB</tspan></text>
<text x="932.0" y="803.6" font-size="31" font-weight="bold" fill="#000" stroke="#000" stroke-width="1.6" stroke-linejoin="round">g</text>
<text x="1159.4" y="812.2" font-size="20.7" text-anchor="middle" fill="#000" >TnsB</text>
<path d="M948.00,911.90L1136.3,911.88L1136.8,911.88L1137.3,911.87L1137.8,911.86L1138.3,911.85L1138.8,911.83L1139.3,911.81L1139.8,911.78L1140.3,911.74L1140.8,911.70L1141.3,911.65L1141.8,911.58L1142.3,911.50L1142.8,911.40L1143.3,911.27L1143.8,911.13L1144.3,910.95L1144.8,910.74L1145.3,910.50L1145.8,910.21L1146.3,909.87L1146.8,909.49L1147.3,909.05L1147.8,908.55L1148.3,907.98L1148.8,907.34L1149.3,906.63L1149.8,905.83L1150.3,904.94L1150.8,903.94L1151.3,902.81L1151.8,901.52L1152.3,900.02L1152.8,898.25L1153.3,896.12L1153.8,893.55L1154.3,890.42L1154.8,886.62L1155.3,882.05L1155.8,876.65L1156.3,870.43L1156.8,863.47L1157.3,855.95L1157.8,848.16L1158.3,840.49L1158.8,833.40L1159.3,827.35L1159.8,822.79L1160.3,820.08L1160.8,819.44L1161.3,820.93L1161.8,824.41L1162.3,829.61L1162.8,836.13L1163.3,843.52L1163.8,851.28L1164.3,859.01L1164.8,866.33L1165.3,873.02L1165.8,878.91L1166.3,883.97L1166.8,888.23L1167.3,891.75L1167.8,894.64L1168.3,897.02L1168.8,898.99L1169.3,900.65L1169.8,902.06L1170.3,903.28L1170.8,904.35L1171.3,905.31L1171.8,906.16L1172.3,906.92L1172.8,907.61L1173.3,908.21L1173.8,908.76L1174.3,909.23L1174.8,909.65L1175.3,910.01L1175.8,910.33L1176.3,910.60L1176.8,910.83L1177.3,911.02L1177.8,911.19L1178.3,911.32L1178.8,911.44L1179.3,911.53L1179.8,911.61L1180.3,911.67L1180.8,911.72L1181.3,911.76L1181.8,911.79L1182.3,911.82L1182.8,911.84L1183.3,911.85L1183.8,911.86L1184.3,911.87L1184.8,911.88L1367.90,911.90Z" fill="#b82d27"/>
<line x1="948.00" y1="911.90" x2="1367.90" y2="911.90" stroke="#222" stroke-width="1.5" />
<path d="M1028.10,911.90V917.70M1111.60,911.90V917.70M1195.00,911.90V917.70M1278.50,911.90V917.70" stroke="#222" stroke-width="1.5"/>
<line x1="948.00" y1="1010.70" x2="1367.90" y2="1010.70" stroke="#222" stroke-width="1.5" />
<path d="M1028.10,1010.70V1016.50M1111.60,1010.70V1016.50M1195.00,1010.70V1016.50M1278.50,1010.70V1016.50" stroke="#222" stroke-width="1.5"/>
<path d="M948.00,1109.60L1145.5,1109.60L1146.0,1109.60L1146.5,1109.60L1147.0,1109.60L1147.5,1109.60L1148.0,1109.60L1148.5,1109.60L1149.0,1109.60L1149.5,1109.60L1150.0,1109.60L1150.5,1109.60L1151.0,1109.59L1151.5,1109.59L1152.0,1109.59L1152.5,1109.59L1153.0,1109.58L1153.5,1109.58L1154.0,1109.57L1154.5,1109.56L1155.0,1109.55L1155.5,1109.54L1156.0,1109.53L1156.5,1109.51L1157.0,1109.49L1157.5,1109.43L1158.0,1109.33L1158.5,1109.15L1159.0,1108.87L1159.5,1108.53L1160.0,1108.21L1160.5,1108.02L1161.0,1108.04L1161.5,1108.26L1162.0,1108.60L1162.5,1108.93L1163.0,1109.19L1163.5,1109.36L1164.0,1109.45L1164.5,1109.49L1165.0,1109.52L1165.5,1109.53L1166.0,1109.54L1166.5,1109.55L1167.0,1109.56L1167.5,1109.57L1168.0,1109.58L1168.5,1109.58L1169.0,1109.59L1169.5,1109.59L1170.0,1109.59L1170.5,1109.59L1171.0,1109.60L1171.5,1109.60L1172.0,1109.60L1172.5,1109.60L1173.0,1109.60L1173.5,1109.60L1174.0,1109.60L1174.5,1109.60L1175.0,1109.60L1175.5,1109.60L1367.90,1109.60Z" fill="#b82d27"/>
<line x1="948.00" y1="1109.60" x2="1367.90" y2="1109.60" stroke="#222" stroke-width="1.5" />
<path d="M1028.10,1109.60V1115.40M1111.60,1109.60V1115.40M1195.00,1109.60V1115.40M1278.50,1109.60V1115.40" stroke="#222" stroke-width="1.5"/>
<path d="M948.00,1208.20L1144.7,1208.20L1145.2,1208.20L1145.7,1208.20L1146.2,1208.20L1146.7,1208.20L1147.2,1208.20L1147.7,1208.20L1148.2,1208.20L1148.7,1208.20L1149.2,1208.19L1149.7,1208.19L1150.2,1208.19L1150.7,1208.18L1151.2,1208.18L1151.7,1208.17L1152.2,1208.16L1152.7,1208.15L1153.2,1208.14L1153.7,1208.13L1154.2,1208.11L1154.7,1208.09L1155.2,1208.07L1155.7,1208.05L1156.2,1208.01L1156.7,1207.95L1157.2,1207.85L1157.7,1207.66L1158.2,1207.34L1158.7,1206.86L1159.2,1206.26L1159.7,1205.65L1160.2,1205.18L1160.7,1205.00L1161.2,1205.18L1161.7,1205.65L1162.2,1206.26L1162.7,1206.86L1163.2,1207.34L1163.7,1207.66L1164.2,1207.85L1164.7,1207.95L1165.2,1208.01L1165.7,1208.05L1166.2,1208.07L1166.7,1208.09L1167.2,1208.11L1167.7,1208.13L1168.2,1208.14L1168.7,1208.15L1169.2,1208.16L1169.7,1208.17L1170.2,1208.18L1170.7,1208.18L1171.2,1208.19L1171.7,1208.19L1172.2,1208.19L1172.7,1208.20L1173.2,1208.20L1173.7,1208.20L1174.2,1208.20L1174.7,1208.20L1175.2,1208.20L1175.7,1208.20L1176.2,1208.20L1176.7,1208.20L1367.90,1208.20Z" fill="#b82d27"/>
<line x1="948.00" y1="1208.20" x2="1367.90" y2="1208.20" stroke="#222" stroke-width="1.5" />
<path d="M1028.10,1208.20V1214.00M1111.60,1208.20V1214.00M1195.00,1208.20V1214.00M1278.50,1208.20V1214.00" stroke="#222" stroke-width="1.5"/>
<text x="1022.4" y="1236.5" font-size="20.7" text-anchor="middle" fill="#000" >0.332</text>
<text x="1249.0" y="1236.5" font-size="20.7" text-anchor="start" fill="#000" >0.338 Mb</text>
<text x="967.9" y="851.0" font-size="20.7" text-anchor="start" fill="#000" >WT</text>
<text x="967.9" y="951.8" font-size="20.7" text-anchor="start" fill="#000" >NT</text>
<text x="971.1" y="1056.9" font-size="20.7">Δ<tspan font-style="italic">tniQ</tspan></text>
<text x="971.1" y="1150" font-size="20.7">Δ<tspan font-style="italic">tnsC</tspan></text>
</svg></body></html>
